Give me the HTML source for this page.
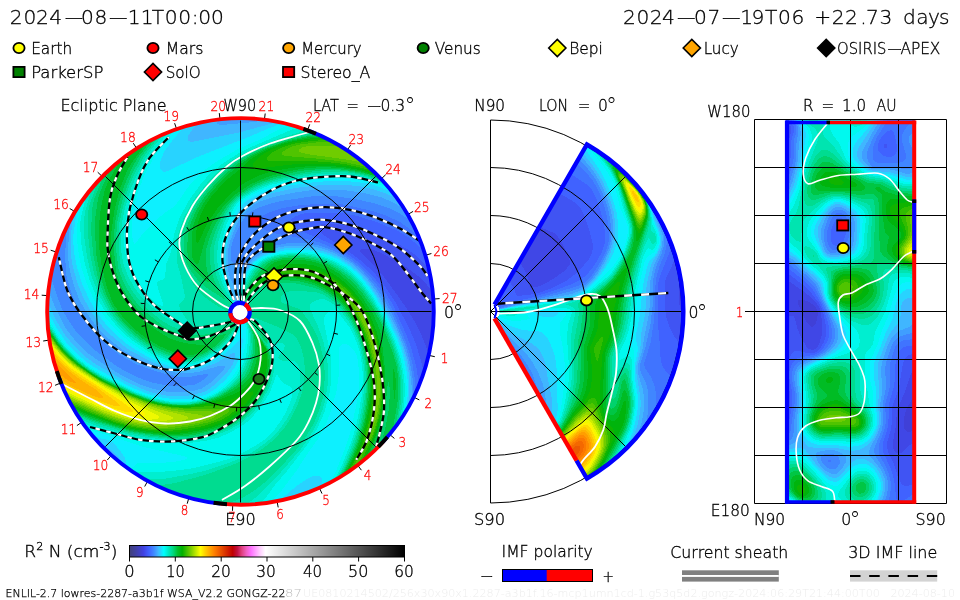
<!DOCTYPE html>
<html lang="en"><head><meta charset="utf-8"><title>ENLIL solar wind density</title>
<style>html,body{margin:0;padding:0;background:#fff}svg{display:block}text{font-family:'DejaVu Sans Light','DejaVu Sans','Liberation Sans',sans-serif;white-space:pre}</style>
</head><body>
<svg width="960" height="600" viewBox="0 0 960 600">
<rect width="960" height="600" fill="#fff"/>
<defs><clipPath id="cl"><circle cx="240.5" cy="311.5" r="192.5"/></clipPath></defs>
<g clip-path="url(#cl)"><g transform="scale(0.5)" shape-rendering="crispEdges">
<path fill="#404078" d="M88 230l788 0 0 788-788 0 0-788z"/>
<path fill="#4040d7" d="M88 230l788 0 0 788-788 0 0-788z"/>
<path fill="#4047e6" d="M88 230l788 0 0 788-788 0 0-788z"/>
<path fill="#4054f3" d="M88 230l788 0 0 359-6 1-16-20-18-18-21-16-23-14-28-15-20-8-10-2-8 1-4 1-2 3 6 8 24 24 18 20 28 38 22 32 13 22 10 20 10 24 9 26 16 4 0 50 0 248-788 0 0-788z"/>
<path fill="#4062ff" d="M88 230l788 0 0 308-14 2-30-29-18-13-36-20-50-21-24-6-52-4-8 1-3 2-3 4 2 8 7 8 61 41 16 12 24 22 19 23 24 36 28 54 12 28 11 35 7 31 27 10 0 256-788 0 0-788z"/>
<path fill="#4074ff" d="M88 230l788 0 0 267-24 7-36-30-24-14-39-16-39-12-22-5-26-2-53 1-13 3-10 4-6 4-3 5 4 8 13 10 60 26 37 22 23 17 24 23 23 28 20 32 28 62 10 28 10 38 6 42 37 17 0 223-788 0 0-788z"/>
<path fill="#4086ff" d="M88 230l788 0 0 229-34 14-2 0-40-29-28-13-28-9-34-8-24-5-20-2-22 0-48 4-30 5-20 6-19 8-8 6-4 8 1 6 3 4 15 8 22 6 60 11 24 6 32 14 32 20 15 13 17 17 15 17 12 16 12 20 11 20 18 42 12 32 9 32 4 26 3 38 44 22 0 204-788 0 0-788z"/>
<path fill="#409eff" d="M88 230l788 0 0 191-48 24-32-20-18-9-32-10-32-7-38-6-28-2-26 2-60 9-24 6-17 6-17 8-11 8-11 16-8 15-10 25-3 16 0 14 3 8 6 5 4 2 12 1 4-3 16-16 14-10 12-6 18-6 22-4 22-2 24 2 20 4 16 5 16 7 16 8 14 10 14 11 14 14 25 30 18 28 15 28 26 62 6 24 6 28 2 20 2 36 48 26 0 190-54 0-734 0 0-476 10 2 2 3 12 39 12 32 10 18 16 24 14 16 20 20 50 37 27 15 27 12 20 6 28 5 30 1 24-3 7-3 9-6 9-8 2-4-6 0-33 6-24-1-18-4-26-7-36-13-34-19-28-21-25-25-24-32-8-16-10-24-7-22-5-18-3-40 4-60-1-6-45-23 0-193z"/>
<path fill="#40b6ff" d="M88 230l357 0 0 4-11 12 0 2 8 2 56-5 23-3 15-5 2-7 338 0 0 153-62 37-34-18-19-8-33-8-34-5-40-2-36 2-28 4-34 7-22 6-16 6-10 5-16 13-9 10-11 20-12 31-4 17-1 18 0 18 3 13 4 12 9 15 1 3 2-1 9-24 8-16 11-15 10-9 16-9 14-6 18-5 26-3 22 0 20 2 20 5 20 8 18 10 16 10 18 16 16 18 16 22 23 38 17 34 16 40 8 28 5 30 2 18 0 40 53 30 0 178-8 0-780 0 0-444 6 1 2 4 16 40 16 32 14 20 20 23 16 14 20 14 44 28 36 18 28 10 30 6 20 1 30-3 18-5 16-11 20-18 7-8 3-6 0-2-2-1-6 0-46 13-24 3-22-2-28-8-46-19-30-18-20-15-15-13-15-16-13-16-14-22-12-22-10-28-7-26-3-20-1-24 4-52 0-12-52-30 0-174z"/>
<path fill="#28d3ff" d="M88 230l312 0 2 10 0 2-17 16-9 14-1 4 1 5 4 2 4 1 98-20 58-16 18-6 2-2 2-10 314 0 0 118-74 51-6-1-26-12-22-7-26-6-28-3-36 0-24 1-44 5-44 10-22 7-19 9-9 6-10 11-9 13-9 18-11 30-4 16-2 26 2 22 13 49 6 15 6 10 2 0-2-14-1-12 5-24 9-24 15-21 18-12 22-9 22-5 36-2 24 3 24 6 26 11 22 14 20 18 18 21 15 22 22 38 21 44 11 28 6 22 4 22 2 22-1 46 1 6 57 33 0 167-156 0-578 0 84-98 11-2 1-2-4-6-10-9-12-5-14-4-110 105 0-400 4 1 2 3 18 39 18 30 20 24 20 19 24 17 56 32 32 15 24 9 26 5 28 2 26-3 24-7 8-5 14-10 22-23 12-17 3-10 1-8 0-3-2-1-2 0-34 20-36 13-28 2-26-3-16-5-20-8-46-24-17-13-19-16-14-13-13-15-17-24-15-28-10-26-9-31-4-23-1-22 1-20 4-36 0-12-58-35 0-157zM480 618l0 2 0-2z"/>
<path fill="#0df0ff" d="M88 230l281 0 5 18-20 22-14 17-12 17-5 12-3 10 0 8 2 6 6 4 10-3 54-26 100-39 47-20 33-12 4-14 300 0 0 92-84 64-6-1-27-11-19-6-26-4-26-2-28 0-28 2-60 8-34 9-18 7-17 8-10 6-7 7-12 18-9 19-11 34-5 18-1 30 3 24 15 46 6 12 8 11-1-25 4-26 11-26 14-19 16-11 22-9 22-4 34-2 26 3 24 6 26 11 22 14 19 17 18 22 13 19 19 33 25 52 10 26 5 20 5 24 2 24-2 50 1 6 61 37 0 155-136 0-88 0-16-36 0-2 8-14 0-8-4-5-8-1-8 1-12 6-16 11-16 13-26 23 3 12-390 0 71-89 13-1 2-4-4-10-10-14-8-10-7-6-8-4-18-4-18-6-2 1-90 73 0-328 4 2 2 3 20 36 18 27 20 21 22 20 24 15 68 36 30 12 32 8 30 3 24-2 28-7 10-5 10-7 22-19 18-25 6-12 4-12 4-18 2-12-2-5-2 1-15 16-15 13-22 15-12 6-26 10-16 1-16-1-16-3-18-5-16-7-18-9-26-16-16-11-22-19-15-16-19-24-16-28-14-31-10-33-6-30-2-28 7-52 0-12-65-43 0-139z"/>
<path fill="#00f9ef" d="M88 230l257 0 8 24-1 2-26 32-21 32-17 32-14 38-8 32-3 28 1 22 4 17 2-1 18-24 22-22 18-15 22-15 32-46 14-14 16-14 23-16 39-23 48-21 41-22 23-8 6-18 284 0 0 73-92 75-47-16-33-6-22-1-28 1-26 3-28 5-32 4-26 6-17 6-18 8-17 10-8 6-10 15-9 19-6 16-8 26-3 18-2 16 0 18 2 14 6 18 13 34 6 12 9 11 0-23 3-20 9-25 9-15 11-13 12-8 20-8 20-4 32-2 26 1 24 6 22 8 24 14 16 12 20 21 17 23 25 44 17 36 10 24 7 22 6 28 3 30 0 20-4 34 1 8 66 42 0 142-195 0-24-46 0-2 15-28 20-50 7-22 13-56 4-20 2-24 0-24-2-24-2-10-4-9-6-7-8-6-6-2-6 0-4 4-2 6 0 48-5 36-10 36-10 28-17 32-23 32-19 30-30 40-13 14-17 16 1 8-349 0 61-82 17-1 6-3 5-6 3-1 38 1 30-2 22-4 7-4-2-2-7-2-86-20-64-22-26-7-24-9-78 58 0-282 4 1 2 2 24 39 16 21 23 23 27 20 16 10 54 28 22 10 35 12 17 4 22 2 30 0 12-2 19-6 10-4 11-6 24-20 9-10 9-14 11-24 6-28 1-16 0-14-4-18-6-14 0 20-3 14-8 16-11 14-18 15-30 18-20 8-16 1-18-1-18-4-18-6-16-7-14-8-34-23-15-13-17-17-21-25-18-30-14-32-11-34-6-34-3-32 1-14 7-38 1-14-1-2-73-51 0-117z"/>
<path fill="#00eed0" d="M88 230l241 0 11 30-36 46-18 31-12 25-10 28-10 32-4 24-2 24 1 24 3 21 5 19 7 15 14 23 14 17 22 19 10 4 3-2-1-4-10-29-2-11 2-4 10-3 4-5 3-28 9-22 7-38 10-30 18-34 26-36 18-20 27-21 32-20 20-10 84-36 20-5 2-2 7-22 263 0 0 62-96 80-6-1-30-11-28-6-34-4-34 1-30 4-51 9-23 5-33 13-27 16-8 6-6 9-8 15-9 20-11 40-3 30 2 24 8 24 16 36 8 12 7 8 1-2 0-20 3-17 6-19 10-20 10-12 8-8 16-9 18-5 20-3 32-1 22 2 22 6 22 9 23 13 15 12 15 16 23 31 23 41 20 44 11 32 6 28 4 34-1 20-4 46 71 49 0 129-184 0-27-50 2-6 9-16 8-16 20-50 10-36 10-56 2-38-4-34-4-18-4-12-8-18-8-15-16-21-12-12-4-1-4 1-8 6-4 6-2 6 0 8 13 62 2 34-1 22-3 22-10 38-14 32-18 30-43 56-24 28-20 28-17 14 1 6-305 0 51-73 58-1 44-4 26-4 48-12 21-6 24-10 29-16 18-12 9-8 13-14 10-14 11-18 8-18 5-16 1-10-1-4-4-5-12-6-4-3-10-15-2 2-11 31-10 18-14 20-18 20-17 13-24 13-20 9-24 6-28 4-26 1-76-7-30-6-60-16-36-14-70 47 0-254 4 1 2 2 22 35 16 21 24 23 26 20 24 14 66 33 36 12 34 7 32 1 26-5 27-10 13-8 14-10 18-19 14-25 5-12 3-14 2-28 0-12-3-12-5-14-6-11-5 23-6 16-8 14-12 14-17 13-30 17-16 6-16 0-18-2-18-5-16-6-16-7-42-29-16-13-13-14-22-28-18-30-14-34-10-36-6-34-3-40 2-16 10-40 0-10-84-65 0-89z"/>
<path fill="#00e4b0" d="M88 230l229 0 14 32-1 2-28 36-10 15-18 34-14 33-10 34-6 28-2 30 1 32 4 22 9 24 12 22 16 21 17 17 27 22 20 10 10 3 8 1 6-1 3-3-2-6-12-18-3-8 2-6 8-7 2-5-6-32-11-42 0-26 4-28 11-32 19-34 30-38 27-26 18-14 18-11 32-16 52-20 38-11 18-4 2-2 11-28 243 0 0 53-99 85-7-1-30-11-30-6-28-3-36 0-36 5-64 13-29 11-29 16-12 8-7 8-9 14-10 20-7 20-7 24-2 30 3 28 8 24 19 36 6 8 10 10 1-2 1-21 4-16 8-21 10-18 10-12 9-8 15-8 16-5 20-2 28-1 22 3 22 5 22 9 20 12 17 13 15 15 24 32 23 41 20 44 10 30 6 28 4 36-1 22-6 44 0 6 76 53 0 117-177 0-29-52 0-4 14-24 14-32 14-39 6-23 6-30 5-42-1-40-8-40-6-16-8-18-10-17-10-13-16-17-10-7-10-5-6-1-6 1-13 5-5 4-1 4 1 6 16 35 10 27 5 22 4 24 1 24-1 22-4 26-6 22-8 20-11 22-12 19-12 17-47 54-47 46-20 14-1 2 0 4-245 0 38-61 52 0 50-9 26-6 44-14 25-10 28-14 26-18 14-12 13-14 16-22 10-18 10-24 5-18 2-16-1-20-4-13-6-6-6-2-20 0-6-3-2-2 2-4 10-14 2-8-4-3-8-1-6 0-6 2-3 4 0 4 6 18-2 32-4 16-5 14-14 26-17 22-23 21-28 16-32 12-30 6-28 2-26-1-50-5-32-6-64-17-18-7-22-10-66 43 0-237 4 0 2 2 22 35 16 20 24 22 26 20 24 14 65 32 33 12 36 7 32 1 28-4 28-10 28-18 19-18 13-21 9-25 3-26-1-18-3-14-6-14-8-13-6 21-7 16-11 17-14 15-16 11-30 16-14 4-16-1-18-3-18-5-30-14-14-9-26-19-25-24-20-26-20-36-14-36-9-38-5-36-1-40 3-18 11-38 1-8 0-4-95-80 0-60z"/>
<path fill="#00dc90" d="M88 230l219 0 16 36-4 6-25 32-9 14-17 32-12 28-10 36-7 30-2 30 1 30 3 24 4 16 9 20 12 20 14 18 16 17 26 21 18 11 14 6 10 3 24 2 36-6 12-4 11-6 13-10 0-2 2-2 4 0 2-2 2 0 4-4 2 0 5-4 1-16 4-16 10-25 12-21 10-12 7-6 11-6 12-5 20-4 22-1 22 1 20 4 18 5 17 8 20 12 17 13 23 25 25 37 20 39 14 34 7 20 7 30 3 38-1 28-7 44 1 6 80 59 0 105-171 0-32-56 18-32 17-41 12-39 6-29 5-35 1-34-3-32-7-30-8-22-14-27-18-24-16-15-18-12-16-6-18-1-14-2-19 1-9 3-8 5-3 6 0 6 5 4 32 12 6 5 16 23 12 21 8 21 6 26 4 34-2 30-2 16-6 22-12 30-19 32-21 27-46 49-21 18-15 11-22 13-34 14-2 2-1 6-85 0-82 0 23-46 5-2 22-1 20-3 56-15 26-9 40-15 28-14 26-16 22-18 19-21 15-22 12-24 9-24 5-24 2-24-2-22-6-23-8-18-6-7-37-18-43-17 0 1 2 4 13 16 11 20 3 8-3 6 11 22-1 28-5 22-7 18-8 16-13 18-13 14-14 12-12 8-16 9-20 8-32 8-32 5-28 0-48-5-40-8-64-18-42-17-62 39 0-225 4 0 2 3 22 33 20 24 22 20 28 20 24 14 62 30 34 12 34 7 30 1 14-1 16-4 30-10 28-17 20-18 12-18 10-26 3-14 0-14-1-18-4-16-6-14-10-13-2 3-5 18-7 14-12 17-10 11-14 11-20 12-16 7-14 3-16 0-18-4-22-8-16-7-14-8-14-10-24-19-18-17-12-15-9-13-18-36-13-38-8-40-4-38 0-42 3-16 13-36 3-16-107-100 0-28zM506 634l-1 0 1 0zM645 232l1-2 230 0 0 45-102 90-6-1-35-12-27-6-22-2-32 0-40 4-52 10-26 8-22 9-32 19-10 8-7 8-11 18-10 22-7 18-6 22-1 16 1 22 2 16 4 14 8 18 9 16 12 16 15 14-1 2-22 0-26-15-18-13-12-10-7-8-8-12-23-45-2-7 0-20 2-20 5-18 6-18 15-28 18-26 29-32 27-24 34-21 34-16 40-14 62-14 13-31z"/>
<path fill="#00d26c" d="M95 230l201 0 19 40-7 10-26 34-19 36-16 42-12 50-3 34 1 30 4 32 8 22 8 16 10 16 12 16 13 13 38 31 14 8 16 7 16 3 18 1 14-1 22-4 14-5 10-6 14-11 9-10 5-7 0 5-2 8-6 13-16 22-13 13-13 10-20 11-16 7-12 2-12-1-18-3-22-8-18-8-28-18-22-18-14-14-21-26-16-32-9-22-6-20-8-42-4-46 3-46 4-18 17-42 1-8 0-2-112-114zM654 232l1-2 221 0 0 37-104 94-2 1-4-1-26-9-24-6-24-4-24-2-26 1-28 3-62 13-24 8-18 8-18 10-20 14-8 7-9 12-11 18-9 18-8 22-6 20-1 16 1 20 3 18 5 14 8 16 14 20-1 1-36-23-14-11-10-12-12-16-9-21-2-8 0-12 2-26 8-26 11-24 19-30 24-28 21-20 25-20 19-12 18-9 40-16 28-8 57-11 15-34zM564 514l22-2 26 2 22 4 22 8 20 11 22 15 15 14 15 18 20 30 20 37 18 44 9 33 4 26 1 36-2 22-8 48 86 67 0 91-166 0-6-12-27-46 17-32 10-22 9-22 7-24 6-24 5-26 2-24 2-24-2-32-7-34-8-26-13-26-11-17-12-16-12-11-16-12-14-8-14-5-27-7-15-2-16-1-16 1-16 4-15 6-15 10-8 8-10 14-6 13 1-13 5-18 12-27 12-18 12-14 13-9 10-4 17-4zM481 624l1-1 1 1-1 0-1 0zM479 626l1-1 0 1 0 1-1-1zM484 626l2-1 4 3 0 3 2-2 4 3 12 10 10 12 12 19 4 7 0 4-2 2-2-2-24-38-11-12-3-3-1 1 46 66 6 16-1 20-2 14-4 16-8 18-8 14-10 14-13 14-15 14-12 8-22 11-26 9-34 7-32 2-22 0-34-4-38-7-76-22-38-16-44 26-16 10 0-215 4 0 2 3 25 36 19 22 28 24 34 22 60 30 36 14 22 6 18 3 18 2 20 0 14-2 16-3 32-12 17-10 17-12 14-12 6-8 8-16 5-16 3-16 1-18-2-16-5-15-11-21-5-6z"/>
<path fill="#00c644" d="M131 230l154 0 22 44-7 10-25 32-10 18-16 36-11 36-8 40-3 38 3 42 3 20 4 12 7 16 9 16 23 29 22 21 36 25 26 11 24 4 26-2 32-8 8-2 2 0-8 12-16 14-16 10-16 7-10 3-12 1-14-3-18-5-22-9-28-15-35-29-13-14-14-18-7-12-9-18-14-42-7-38-3-44 1-36 5-35 4-13 16-36 6-16-91-102zM662 230l214 0 0 30-107 98-5 0-26-9-20-5-36-5-42-1-42 4-52 13-32 12-18 10-18 12-14 11-12 14-13 20-12 22-8 20-6 20-2 12 0 16 3 16 5 22 1 2-2 1-6-3-12-10-18-21-4-9-4-22 2-30 6-26 11-24 16-26 24-28 19-19 31-25 26-16 27-12 36-12 34-8 38-6 18-38zM568 516l30-1 30 5 28 9 22 13 26 21 20 22 24 35 16 30 22 56 8 30 2 20 1 22-2 26-11 64 92 75 0 64-115-113 11-44 6-34 2-34-2-16-2-3-5 47-4 26-8 28-13 34-5 14 1 4 90 102-116 0-35-60 25-50 9-22 7-24 7-24 4-26 3-24 1-26-1-22-2-20-5-22-6-22-8-18-9-18-12-19-12-15-12-11-14-10-14-8-14-7-31-8-33-2-14 1-12 3-15 6-10 6-10 8-7 8-7 10-5 12-1-4 2-6 8-18 15-27 12-17 12-12 12-8 24-6zM482 618l0-1 0 1 0 2 0-2zM494 638l0-1 0 1 0 1 0-1zM496 640l1 2-1 0 0-2zM497 644l1-1 20 29 18 28 4 14 0 12-1 16-3 14-7 18-9 16-12 17-14 15-15 14-12 8-17 9-18 6-40 10-30 4-28-1-38-4-30-5-30-8-56-18-34-15-58 33 0-79 0-126 4 0 22 32 12 15 12 13 19 16 19 14 22 14 64 32 44 16 20 5 18 2 22 1 16-1 16-2 20-6 24-10 28-17 20-16 9-14 9-26 3-26-3-22-11-26z"/>
<path fill="#00bc24" d="M171 230l100 0 26 48-1 3-6 9-24 32-12 20-15 38-10 40-6 42-1 38 5 46 5 18 5 14 15 25 20 24 20 19 28 19 20 12 20 7 20 4 24 2 12 1 2 1-3 4-17 10-16 5-12-1-18-4-34-14-28-17-26-21-20-22-18-25-12-31-11-46-5-38 0-44 4-34 8-36 8-18 17-30 3-8 1-6-68-86zM667 232l1-2 208 0 0 22-110 104-6-1-38-12-34-6-38-3-36 2-40 7-40 11-34 15-28 19-14 12-11 12-13 18-11 18-12 28-13 48-2 5-4-1-4-6-3-6-2-12 0-28 4-26 8-22 11-20 14-20 18-21 19-19 27-22 20-14 23-12 25-10 26-8 36-7 34-4 19-39zM567 520l25-1 29 3 15 4 16 6 24 14 26 22 20 23 25 39 13 30 4 24 6 54 1 30-2 30-3 28-7 28-6 18-17 42-1 6 84 98-97 0-12-19-26-43 21-40 11-26 12-40 7-32 4-32 0-38-3-32-8-32-7-20-9-19-12-20-12-16-12-13-14-11-14-9-18-9-16-5-22-5-22-1-18 1-18 5-13 6-15 11-12 12-1-1 3-6 10-16 35-38 9-6 17-4zM88 654l0-2 4 0 2 2 24 35 16 18 24 21 26 19 24 14 54 26 34 13 26 7 22 3 22 1 18-1 20-3 24-7 16-7 25-13 17-11 10-9 6-8 6-14 4-14 3-14 0-16-2-16-4-14 1-2 8 11 16 27 3 18 0 16-2 12-7 22-10 19-12 17-19 20-17 14-13 8-19 8-24 7-36 7-26 2-26 0-40-5-28-6-28-8-52-18-34-15-2 0-54 31 0-195zM508 660l1 2-1 0 0-2zM785 732l5 15 2 19-2 30-2 6-3-64 0-6z"/>
<path fill="#00b40c" d="M674 232l1-2 201 0 0 14-113 108-5 0-34-11-32-6-30-3-34-1-38 4-46 7-26 9-24 12-14 9-18 15-25 27-21 30-20 42-2 0-2-6 0-14 4-21 6-18 8-15 12-18 14-16 18-19 29-23 19-18 16-10 20-10 27-10 23-6 32-5 32-4 2-1 20-40zM571 528l27-1 30 4 28 10 22 14 24 21 21 26 18 30 12 30 8 32 6 38 2 30-1 32-5 34-6 26-6 18-20 46 0 6 77 94-81 0-8-14-31-50 23-46 8-18 12-40 7-34 4-34-1-38-3-30-8-32-7-20-9-18-8-15-12-17-13-16-11-10-14-10-15-8-21-8-18-4-16-2-22-1-14 2-16 4-12 6-16 11 0-3 7-9 19-17 26-16 13-3zM88 656l0-1 4 0 2 2 23 33 17 19 20 17 26 19 28 17 50 25 30 12 28 8 36 5 20 0 18-1 20-4 28-8 28-10 16-8 10-8 9-9 6-8 5-10 5-14 2-14 0-36 1-2 12 18 1 10 1 26-5 22-8 18-11 18-16 19-20 19-13 10-11 6-22 8-20 5-38 7-22 2-28-1-36-5-24-5-31-9-53-19-34-15-2 0-52 29 0-187z"/>
<path fill="#10b400" d="M682 230l194 0 0 4-116 114-6 0-28-9-22-5-34-5-40-2-46 2-70 8-6-1-2-2-1-4 3-6 10-10 15-10 23-10 24-8 18-4 30-4 30-2 24-46zM574 534l28 0 26 4 26 9 22 13 24 21 22 26 17 29 12 30 8 32 6 38 2 32-2 30-4 32-7 27-6 17-22 52 73 92-65 0-4-6-39-60 3-6 22-42 7-16 12-42 7-34 3-34-1-38-5-30-8-32-14-34-20-32-11-14-10-10-24-18-16-8-16-5-38-6-28 0-31 9 9-8 14-9 16-7 12-2zM88 658l4-1 2 2 22 31 16 18 18 16 22 17 32 20 48 24 24 10 28 10 24 5 20 3 22 1 18-1 64-11 22-7 32-13 1 4-6 10-14 16-15 14-20 14-26 11-20 5-34 6-28 3-36-2-26-3-24-5-29-9-53-20-36-16-2 0-50 27 0-179z"/>
<path fill="#30bc00" d="M690 232l1-2 175 0-112 114-34-9-30-7-38-4-48-3-60 2-8-2-3-3 5-8 8-6 16-8 22-8 38-6 42-3 26-47zM572 540l26-1 26 3 24 7 24 13 20 15 20 22 16 23 14 28 11 30 7 36 4 38 0 39-4 33-8 30-6 18-15 30-10 26 68 88-19 0-30 0-44-68 1-6 24-44 6-16 13-46 6-36 1-38-2-38-7-32-11-34-14-28-14-22-15-18-18-17-16-11-20-7-38-8-30-4-2-1 4-2 8-2zM88 660l4-1 2 2 21 29 15 18 16 14 18 14 26 18 18 10 46 23 24 10 40 13 20 3 20 2 24 0 94-7 2 2 0 2-7 8-15 12-16 9-32 11-50 8-26 2-30-2-36-6-34-9-58-22-34-16-4-1-48 26 0-172z"/>
<path fill="#50c400" d="M703 232l1-2 142 0-98 106-2 1-6-1-24-6-22-5-26-4-36-4-60-5-8-2-1-2 2-4 9-6 13-6 13-3 32-4 41-1 30-52zM664 564l14 7 12 10 14 13 14 17 12 19 8 16 10 26 6 22 6 35 2 29 0 32-4 34-4 20-8 23-8 17-9 14-14 36 0 2 61 82-26 0-49-72 26-50 16-58 4-24 2-24 1-24-2-30-3-22-5-22-7-24-10-22-13-24-12-18-13-16-21-22 0-2zM90 662l4 1 2 2 18 26 12 14 12 12 18 15 44 29 64 32 40 14 38 8 36 3 62-1 17 1 2 2-1 2-6 6-17 10-15 6-26 6-50 8-24 1-28-3-34-6-32-10-56-22-32-15-4-1-46 24 0-164 2 0z"/>
<path fill="#70cc00" d="M725 232l1-2 95 0-85 98-36-8-87-12-14-4-2-2 0-2 7-5 13-3 27-1 43 1 38-60zM706 606l2 0 10 11 6 9 12 24 10 26 9 38 3 24 1 18 0 40-5 34-4 14-4 10-2 3 0-6 7-39 3-30-1-32-3-28-7-32-8-26-29-58zM88 666l0-1 6 0 31 41 13 12 18 15 44 29 56 29 36 14 38 10 38 6 56 2 8 1 4 2 1 2-8 6-8 4-17 6-20 4-48 7-26 0-28-3-28-6-32-10-90-38-44 22 0-154z"/>
<path fill="#90d600" d="M88 668l6 0 28 36 22 21 26 19 44 27 48 24 42 16 38 10 54 8 12 3 0 2-7 4-21 6-35 6-23 2-28-2-26-4-24-6-30-10-84-36-42 20 0-146z"/>
<path fill="#b0e200" d="M88 672l0-1 6-1 26 34 24 23 22 16 40 25 52 27 34 15 28 9 46 11 10 4 1 2-2 2-19 5-22 4-24 1-26-2-26-5-22-6-28-10-80-36-40 18 0-135z"/>
<path fill="#d0ee00" d="M88 674l6-1 26 34 20 19 22 16 32 21 70 38 36 16 45 17 2 2-2 2-15 4-20 2-20-1-20-3-26-6-44-16-46-20-28-15-38 17 0-126z"/>
<path fill="#eff900" d="M88 678l6-1 2 2 30 37 20 17 18 13 40 25 52 30 61 31 2 2-1 2-6 2-8 1-16 0-18-3-38-9-40-16-42-19-26-14-2 0-34 14 0-114z"/>
<path fill="#fff300" d="M88 684l0-1 8 0 30 36 30 24 52 34 81 49 2 4-1 1-12 2-18-3-16-3-40-14-52-24-32-18-32 14 0-101z"/>
<path fill="#ffdc00" d="M96 688l4 4 24 28 20 18 18 12 80 52 19 14 4 4 1 2-2 2-6 0-10-1-24-7-37-14-41-20-28-17-30 12 0-88 8-1z"/>
<path fill="#ffc600" d="M92 696l6-1 25 29 19 17 18 13 30 18 46 34 3 4 0 2-5 1-8-2-34-11-35-16-19-10-22-15-28 9 0-71 4-1z"/>
<path fill="#ffb200" d="M97 704l3 0 22 24 14 13 24 18 30 19 12 10 5 6-1 2-6 0-8-2-15-6-33-15-10-6-20-15-2-1-24 8 0-53 9-2z"/>
<path fill="#ff9e00" d="M98 716l4-1 24 25 22 20 4 6-4 0-8-3-10-6-20-16-22 6 0-29 10-2z"/>
</g></g>
<defs><clipPath id="cm"><path d="M495.3 303.2L587.0 144.4A193 193 0 0 1 587.0 478.6L495.3 319.8A9.6 9.6 0 0 0 495.3 303.2Z"/></clipPath></defs>
<g clip-path="url(#cm)"><g transform="scale(0.5)" shape-rendering="crispEdges">
<path fill="#404078" d="M976 230l404 0 0 788-404 0 0-788z"/>
<path fill="#4040d7" d="M976 230l404 0 0 788-404 0 0-788z"/>
<path fill="#4047e6" d="M976 230l404 0 0 788-404 0 0-788z"/>
<path fill="#4054f3" d="M976 230l404 0 0 315-11 3-7 5-2 3-2 6-1 8 2 40 3 12 6 8 6 3 6 1 0 384-210 0-194 0 0-511 16 0 14 2 14 4 15 7 7 8 7 12 7 16 4 16 1 2 3 1 8-1 10-3 14-7 16-10 14-10 8-8 5-6 1-6-2-8-14-30-8-12-8-8-54-23-19-7-29-6-30-2 0-198z"/>
<path fill="#4062ff" d="M976 230l404 0 0 268-18 5-4 3-4 4-21 44-3 8-1 12 2 50 2 12 7 20 8 16 10 13 4 3 6 3 12 3 0 324-198 0-206 0 0-467 10 0 10 2 10 2 8 4 4 4 6 8 5 9 3 10 2 2 28-3 15-3 22-8 19-9 14-7 16-12 16-15 14-17 6-12 2-10-1-10-5-20-10-31-9-19-5-6-6-5-22-13-28-14-18-8-20-7-20-5-22-5-22-2-22 0 0-121z"/>
<path fill="#4074ff" d="M976 230l404 0 0 219-32 14-2 3-2 6-3 22-2 10-18 46-4 14-1 82 1 14 2 22 2 32 2 12 3 8 8 12 12 11 8 4 26 10 0 247-170 0-234 0 0-396 6 0 4-4 2 0 2-2 2 0 2-2 2 0 6-3 16-6 42-9 46-14 33-12 21-10 8-6 10-10 11-14 7-12 8-14 4-12 2-6 1-12-2-16-3-18-6-22-6-17-10-21-7-8-9-7-20-13-26-14-23-10-23-8-24-7-26-5-24-2-26-1 0-75z"/>
<path fill="#4086ff" d="M976 230l404 0 0 153-56 34 0 1 2 16 8 32 1 10-1 10-4 20-11 26-7 26-1 12-1 44-3 34-6 38-13 42 2 8 13 20 7 18 2 16-1 34 1 7 2 5 4 4 62 40 0 138-138 0-266 0 0-395 6-1 32-11 60-15 43-12 38-12 13-6 7-6 9-10 12-18 7-12 7-14 6-17 2-9 0-10-1-18-3-18-6-24-8-22-8-16-6-10-12-15-12-12-16-15-14-8-24-11-27-9-25-7-31-5-25-2-24-1 0-47z"/>
<path fill="#409eff" d="M976 230l242 0-30 50 0 2 2 0 28 22 23 22 28 30 18 22 11 16 7 14 18 42 5 18 1 12-2 14-4 14-11 26-6 26-1 12 0 42-4 34-10 46-10 32-1 6 0 6 2 7 9 19 3 8 2 10 1 12-1 30-2 14-6 26-1 10 1 4 92 76 0 64-266 0-138 0 0-194 16 0 18-2 20-4 16-5 14-5 10-5 3-5 2-8-1-12-2-10-8-22-8-14-9-14-17-22-12-12-8-6-2 0-16 5-16 1 0-61 6 0 4-2 30-8 128-31 16-6 12-7 11-11 13-18 12-21 9-21 4-14 2-12-1-18-2-18-4-18-5-16-7-18-8-17-8-13-12-16-14-15-10-10-12-8-20-9-24-9-26-8-24-5-23-4-23-2-24 0 0-38z"/>
<path fill="#40b6ff" d="M976 230l64 0 40 8 32 10 26 10 26 12 24 15 30 23 24 22 29 32 18 22 7 12 5 10 9 25 11 27 4 12 0 12-2 14-5 14-10 20-7 30-1 12 0 36-3 24-8 40-4 26-9 32 0 12 1 8 8 26 2 12 1 16 0 14-2 14-3 14-7 20-10 28-2 6 1 4 114 114-293 0-110 0 0-162 24-1 24-3 24-6 24-9 11-5 5-5 2-7 2-14-2-20-5-20-8-20-12-22-15-20-47-46-17-22 0-2-6 0-4-1 0-9 4 0 8-3 42-10 113-23 15-6 12-7 14-13 12-16 12-20 10-22 5-14 3-14 0-18-1-20-3-16-6-20-8-21-8-17-10-17-11-15-13-15-12-11-12-8-20-10-24-9-26-8-24-5-24-4-24-2-24 0 0-30z"/>
<path fill="#28d3ff" d="M976 230l43 0 7 1 32 5 30 7 30 10 28 11 26 14 23 14 25 20 20 18 32 35 16 21 9 14 4 10 7 24 12 30 2 12 0 12-3 10-5 12-9 14-3 6-7 32-2 12-1 34-2 20-8 42-1 22-1 10-7 28-1 10 2 14 5 30 2 16 0 14-2 16-5 24-9 24-8 18-14 24-2 6 79 92-290 0-54 0 0-142 30-1 30-5 30-8 27-12 6-6 4-10 1-20-1-20-7-34-5-32-5-14-6-12-7-8-8-6-35-18-16-11-14-13-19-22 7-3 48-10 104-18 14-5 14-8 14-12 10-12 16-22 9-18 8-20 4-14 1-18 0-20-2-18-5-18-9-24-9-22-8-14-13-19-16-20-12-12-12-8-22-10-22-8-26-8-26-5-22-4-24-2-26 0 0-22z"/>
<path fill="#0df0ff" d="M976 232l0-1 22 1 34 3 32 5 28 7 28 10 28 12 32 16 20 13 21 16 23 22 27 30 16 20 8 12 4 10 9 34 10 24 2 12-1 12-4 12-5 8-11 12-5 12-8 36-6 58-8 42 0 10 3 12 1 8-2 10-4 18-1 12 2 24 4 24 1 16-1 16-3 18-7 28-11 26-10 18-24 32 0 2 55 74-283 0-16 0 0-135 34-1 34-7 20-5 20-8 13-6 7-6 5-6 3-6 3-16 0-16-2-30 1-30-2-22-4-18-10-25-8-11-6-5-6-2-32-3-20-6-10-4-10-7-24-19 6-3 44-8 108-17 14-4 12-7 14-11 13-14 14-18 11-18 9-18 7-20 2-12 0-26-2-20-5-18-8-24-10-24-9-18-13-20-19-26-11-12-11-7-18-8-20-8-22-7-28-7-29-5-27-3-28 0 0-9zM1084 622l-11 2-3 2 4 3 6 3 8 2 8 1 8-1 6-2 6-4 0-2-1-2-11-2-20 0z"/>
<path fill="#00f9ef" d="M1172 286l8 2 8 4 18 12 12 9 26 25 35 38 11 16 7 12 5 16 4 24 8 18 3 12 1 6-1 8-4 10-5 7-10 6-4 4-4 7-2 6-11 48-7 60-10 46 0 8 8 11 1 7-2 20 0 10 1 24 4 32 1 14-2 14-4 22-4 14-6 18-6 14-8 14-15 21-29 33 39 60-262 0 0-80 0-51 24-1 20-2 21-4 15-4 18-6 23-10 11-8 6-8 4-10 4-16 7-52 1-18-1-24-3-28-5-24-2-22 1-4 12-16 1-4-1-2-4-3-6-1-10-2-24 1-27 3-7 2-2 2 7 10 0 2-9 2-18 2-10-1-12-3-10-4-17-10 5-2 46-8 106-15 10-2 10-4 10-7 12-10 43-42 15-22 6-12 5-14 5-22-1-12-4-12-11-24-8-35-4-12-6-13-15-24-32-40-3-6z"/>
<path fill="#00eed0" d="M1186 296l2-1 16 9 12 9 14 12 14 14 22 23 19 24 8 12 4 10 5 18 3 24 7 14 3 10-1 12-4 9-4 4-4 0-6-3-2 2-4 7-5 13-15 64-7 52-6 28-6 18-11 22-3 10 0 6 3 2 10-5 6-3 4 1 3 5 2 44 4 30 1 16-2 20-6 26-15 36-6 12-8 12-9 12-13 14-33 30 0 2 25 46-227 0 0-56 0-72 24-1 25-3 21-4 20-6 20-8 16-8 10-8 7-10 4-10 5-18 9-50 1-30-4-60 2-24 8-24-2-5-4-3-9-2-13-1-32 2-39 5-7 2-5 6-5 2-16-1-27-7 3-2 39-6 111-13 12-3 12-5 14-9 36-30 12-12 17-26 7-14 5-14 5-20 1-14-5-18-9-26-9-34-8-20-10-19-8-11-18-22-6-8 0-2z"/>
<path fill="#00e4b0" d="M1197 306l1-2 2 0 6 4 14 10 14 12 34 36 18 22 9 16 4 14 2 16 0 26 7 6 2 2 2 7-1 9-3 4-2 0-3-2-5-10-2 1-7 15-9 28-5 26-9 32-9 60-5 24-5 14-15 28-3 10 0 10 0 10 3 7 2 1 2-2 10-10 6-4 4 0 3 4 2 10 2 26 4 34 0 14-3 18-3 16-5 14-20 42-7 12-8 10-24 24-27 21-22 12-40 16-20 7-27 6-38 6-47 0 0-126 22-1 20-2 22-4 21-5 19-7 20-9 10-6 9-10 5-10 8-24 6-24 4-20 2-18 0-16-3-56 4-28 6-26-1-6-4-5-8-4-9-1 4-2 17-5 18-8 45-35 10-10 10-14 11-18 8-18 6-18 3-14 0-12-3-14-10-30-8-30-8-20-12-24-23-32zM1056 614l14-1 6 1-66 12-22-2 1-2 67-8z"/>
<path fill="#00dc90" d="M1205 312l1-1 2 1 6 3 20 17 16 15 26 29 9 12 8 14 4 12 2 12 0 16-3 18-18 56-18 68-9 58-4 18-4 14-16 30-3 12 0 32 2 11 2 6 2 0 9-17 9-11 4-1 2 1 3 5 8 58 0 14-3 20-4 14-4 12-22 46-14 20-20 21-26 21-20 11-22 10-20 7-40 12-24 5-28 3-42 2 0-124 28-1 28-4 28-6 26-10 18-8 11-9 8-10 7-16 11-32 5-20 2-16 1-24-1-54 8-44 2-14 0-6-3-12 4-4 16-10 35-27 10-10 8-9 15-24 8-16 7-18 5-22 0-14-3-12-21-68-5-12-12-24-14-20-3-6zM1010 620l15 0-17 3-12 0-5-1 15-1 4-1z"/>
<path fill="#00d26c" d="M1214 320l2 0 4 2 18 14 22 23 15 17 10 12 7 12 3 10 3 12 0 14-3 16-22 70-17 62-10 62-4 16-5 14-13 26-3 8-1 6 0 38 1 26 3 14 2 3 2 0 4-5 3-10 6-26 3-6 4-4 4 1 3 7 7 44 1 14-3 20-3 14-5 14-22 44-12 18-15 18-23 20-20 13-36 16-34 12-26 7-32 5-26 3-30 0 0-120 32-1 32-5 32-9 30-13 12-8 9-10 6-10 13-30 7-22 5-28 1-20 0-54 6-24 2-16 2-16 0-18 0-4 3-4 5-4 41-33 8-8 9-11 11-18 11-20 7-20 4-20 1-12-2-12-19-60-8-22-14-28-8-14 0-2z"/>
<path fill="#00c644" d="M1221 328l1-1 2 0 12 9 20 20 19 20 9 12 7 12 4 10 2 12-1 14-4 18-23 68-16 58-5 20-7 48-4 16-4 12-13 26-3 12-2 28 0 36 1 22 2 10 2 5 2 2 2 0 4-2 3-3 3-7 4-11 6-30 2-4 2-2 2 1 7 23 3 16 0 14-3 24-3 12-4 10-26 50-10 16-14 16-24 21-18 12-30 13-34 12-32 9-24 4-32 3-30 1 0-116 34-2 32-5 32-10 30-12 11-8 9-10 27-50 5-18 4-22 1-20 0-52 10-38 2-18 0-24 1-4 7-8 37-32 15-18 13-20 11-20 5-14 4-20 1-16-5-20-20-62-21-48z"/>
<path fill="#00bc24" d="M1226 332l2 0 4 2 10 9 22 22 15 17 7 10 5 10 3 10 2 10-1 14-5 18-8 22-15 40-19 64-8 38-4 30-4 16-4 12-11 24-4 12-2 74 0 22 2 12 5 8 4 2 5 0 5-4 5-12 9-31 2-3 2 0 4 7 3 15 0 14-3 19-6 21-31 58-10 16-13 14-22 18-18 11-32 14-36 12-26 7-28 4-28 3-28 1 0-113 34-2 34-5 32-10 30-13 10-7 10-10 17-30 15-24 6-18 3-18 1-22 0-50 11-38 1-16 1-26 1-6 6-8 34-32 15-18 13-20 10-20 5-14 3-14 1-20-4-18-21-64-15-36-3-6 0-4z"/>
<path fill="#00b40c" d="M1229 338l1-2 2 0 6 4 26 26 19 22 8 16 3 12 1 14-5 18-8 21-6 12-2 2-2-1-1-22-4-18-21-62-13-30-4-12zM1251 536l1-1 1 1 1 4-1 6-12 42-6 30-7 43-4 12-11 25-3 10-5 82 1 22 3 14 3 6 4 5 8 5 6-1 6-5 4-10 8-24 2-1 2 3 1 8-1 10-3 18-4 12-36 72-13 16-17 16-21 14-28 13-34 12-36 10-42 6-42 2 0-110 22-1 22-2 22-4 22-6 22-8 20-9 11-7 10-10 19-31 16-20 10-25 2-14 2-16-2-56 13-38 2-16 1-28 2-8 9-12 27-28 17-22 6-6z"/>
<path fill="#10b400" d="M1232 342l2-2 4 2 20 18 20 23 11 17 4 14 1 12-3 12-6 18-5 9-2 2-2-1-9-30-19-53-13-31-3-10zM1236 564l2-1 2 1 0 4-13 54-5 37-4 15-10 24-3 10-5 64 0 28 5 26 5 13 16 19 3 8-3 14-15 34-11 18-14 16-18 14-20 12-34 14-34 11-36 7-36 5-32 0 0-106 24-1 22-2 22-4 22-6 22-8 20-9 12-9 9-10 19-28 18-20 13-24 3-12 2-14-1-30-3-32 2-6 9-20 4-12 5-50 3-8 10-14 23-22z"/>
<path fill="#30bc00" d="M1235 344l1-1 2 1 6 4 20 19 14 17 10 16 4 12 1 10-1 8-6 18-4 7-2 2-2 0-4-5-26-72-11-26-2-6 0-4zM1203 674l1-1 2 0 0 1-1 10-9 36-2 2-1-2-4-14-1-8 2-6 4-7 9-11zM1183 796l3-1 2 0 4 4 12 37 15 26 2 8-1 12-5 16-11 24-9 14-13 14-18 14-15 8-23 10-28 10-28 8-31 6-27 3-36 1 0-103 34-2 34-5 33-10 31-13 10-7 9-8 23-32 16-15 12-16 5-3z"/>
<path fill="#50c400" d="M1238 348l0-1 2 0 4 2 20 19 14 16 10 16 3 10 1 10-1 10-5 13-3 5-3 3-2-1-3-4-12-28-12-34-12-28-1-6 0-2zM1178 808l6-2 3 2 3 3 10 27 14 26 2 10-1 14-4 14-11 22-9 14-13 13-16 13-16 8-26 11-25 9-29 8-30 5-24 3-36 1 0-100 34-2 32-5 34-9 30-13 10-6 10-8 7-8 19-25 26-25z"/>
<path fill="#70cc00" d="M1241 350l3 1 6 4 16 16 14 17 7 12 3 10 1 12-2 8-4 10-3 4-2 1-2 0-4-5-10-23-23-59-1-6 1-2zM1178 816l4-1 2 1 4 4 9 20 12 24 3 8 1 6-2 14-4 12-10 22-10 14-10 10-15 12-16 9-28 12-24 8-28 7-30 6-24 3-36 1 0-97 32-2 34-5 30-8 30-12 12-6 10-8 8-8 22-27 24-19z"/>
<path fill="#90d600" d="M1243 354l3 0 2 1 16 15 12 14 10 16 3 8 1 8-1 10-5 10-2 3-2 1-2 0-2-2-4-7-9-21-17-44-2-6-1-6zM1174 824l6-1 3 1 3 3 19 37 3 8 1 8-1 12-3 12-12 24-10 14-13 12-14 10-20 10-26 10-24 8-25 6-22 4-31 3-32 1 0-93 32-2 32-5 30-7 30-12 14-7 11-8 8-8 21-25 10-8 10-7z"/>
<path fill="#b0e200" d="M1245 358l1-1 4 1 10 9 12 13 10 14 4 8 2 10 0 12-3 6-2 4-3 2-4-3-4-6-10-23-14-36-3-10zM1172 830l4-1 4 1 6 6 15 28 4 10 1 8-1 12-4 12-12 24-9 12-14 13-14 9-21 10-21 8-24 8-26 6-24 5-28 3-32 1 0-91 32-1 30-4 30-8 28-10 16-8 11-7 11-10 20-23 10-8 8-5z"/>
<path fill="#d0ee00" d="M1248 360l6 3 8 7 13 14 7 11 3 7 2 8 0 8-3 9-2 3-4 1-4-5-4-6-20-50-2-6 0-4zM1169 836l5-2 4 1 6 5 7 12 7 14 4 10 1 8-1 12-3 10-13 24-8 11-14 12-12 8-20 10-24 9-24 8-26 6-24 4-26 3-32 1 0-86 30-1 30-4 28-7 28-10 18-8 13-8 12-10 21-22 13-10z"/>
<path fill="#eff900" d="M1251 364l1-1 4 3 10 9 8 10 7 11 3 6 2 8-1 8-1 4-2 3-2 1-2 0-2-2-4-5-8-17-10-25-3-9 0-4zM1170 840l4-1 4 2 6 7 12 22 3 8 1 8-1 10-4 12-13 24-8 10-12 9-16 10-22 10-22 8-24 7-25 6-25 4-21 2-31 1 0-81 28-1 30-4 30-7 28-9 18-8 12-8 11-9 23-23 8-6 6-3z"/>
<path fill="#fff300" d="M1255 368l1 0 4 3 8 8 6 7 6 10 4 12 0 4-2 7-2 2-2 0-4-4-3-5-15-34-2-8 1-2zM1166 846l4-1 4 0 4 2 4 4 5 9 6 12 2 8 2 8-1 10-4 10-12 22-8 10-11 8-17 9-24 11-22 8-22 7-24 5-23 4-23 2-30 1 0-75 30-1 28-3 28-7 28-9 20-9 14-9 32-29 10-7z"/>
<path fill="#ffdc00" d="M1258 374l2 0 6 5 6 7 6 8 3 10 0 6-1 4-2 1-2-1-6-9-8-17-4-14zM1167 850l3-1 4 1 4 3 4 5 8 17 3 9 1 6-2 10-4 10-10 17-10 11-14 10-16 8-22 9-24 9-22 6-22 5-22 3-24 3-26 0 0-69 28 0 26-4 28-6 30-9 22-10 12-7 12-9 22-20 11-7z"/>
<path fill="#ffc600" d="M1264 382l2 0 2 2 6 8 3 8 0 4-1 1-2-1-4-5-6-13 0-4zM1168 854l6 2 7 8 7 16 2 12-2 10-8 16-8 11-8 7-12 8-20 10-22 9-22 8-22 6-22 5-22 3-24 2-22 0 0-62 28-1 28-4 28-6 26-8 22-9 14-8 12-9 24-21 10-5z"/>
<path fill="#ffb200" d="M1163 860l3-1 4 0 4 3 3 4 7 14 1 6 1 8-2 9-6 12-8 10-10 9-14 9-16 8-22 9-22 7-22 6-22 5-22 3-22 2-22 0 0-56 28 0 26-4 28-6 26-8 22-8 17-9 9-7 24-21 7-4z"/>
<path fill="#ff9e00" d="M1165 864l3 0 4 2 6 9 4 13-1 10-3 8-6 11-9 9-11 8-14 8-20 10-20 7-22 7-20 5-22 4-20 2-22 2-16 0 0-49 26 0 28-4 26-5 26-8 22-8 18-9 10-7 22-19 8-5 3-1z"/>
<path fill="#ff8a00" d="M1160 870l4-1 4 1 5 6 4 10 0 6 0 6-4 10-6 8-8 8-13 9-12 7-22 10-20 7-20 6-40 8-40 4-16 0 0-42 28-1 26-3 26-5 26-8 22-8 18-9 10-7 20-16 8-6z"/>
<path fill="#fb7800" d="M1158 876l6-1 4 2 2 3 2 5 1 5-1 10-4 8-6 8-10 8-12 8-15 8-19 8-38 12-40 8-36 3-16 0 0-34 26-1 26-3 26-5 26-7 24-9 20-10 8-5 26-21z"/>
<path fill="#f46800" d="M1158 882l4 0 2 1 3 5 0 8-2 8-4 6-8 8-11 8-10 6-36 15-36 11-36 6-38 3-10 0 0-27 26 0 26-3 24-5 28-7 22-9 22-10 10-6 18-15 6-3z"/>
<path fill="#ec5800" d="M1152 892l2-1 4 0 2 2 1 3-1 4-2 4-4 6-8 7-10 7-21 10-31 12-31 8-35 6-32 2-10 0 0-17 26-1 26-2 22-4 24-7 22-7 26-11 12-8 18-13z"/>
</g></g>
<defs><clipPath id="cr"><rect x="786" y="120.5" width="129" height="383"/></clipPath></defs>
<g clip-path="url(#cr)"><g transform="scale(0.5)" shape-rendering="crispEdges">
<path fill="#404078" d="M1568 236l266 0 0 776-266 0 0-776z"/>
<path fill="#4040d7" d="M1568 236l266 0 0 776-266 0 0-776z"/>
<path fill="#4047e6" d="M1568 236l266 0 0 550-4 4-8 12-9 16-4 14-1 16 1 10 3 4 2 1 8 0 12-4 0 131 0 22-266 0 0-409 7-5 2-4-1-6-5-6-3-3 0-343zM1598 600l-3 2 1 6 16 34 4 5 6 6 4 0 4-3 4-10 1-8 0-10-3-7-6-6-10-6-10-3-8 0z"/>
<path fill="#4054f3" d="M1568 236l266 0 0 498-6 4-6 10-12 36-13 28-3 12-3 32-6 32 1 8 3 6 5 4 6 1 4-2 8-9 6-5 8-4 8-2 0 127-88 0-178 0 0-181 4-15 2-18-1-18-5-15 0-83 3-38 3-7 4-5 6-1 4 2 2 5 5 20 6 14 12 22 5 4 6 2 4-1 4-2 4-5 3-6 4-14 1-22-1-14-2-14-3-8-4-6-12-13-16-13-38-26 0-238 2-32 5-24-1-4-2-2-4-2 0-18z"/>
<path fill="#4062ff" d="M1568 236l266 0 0 471-10 1-8 3-6 7-4 9-2 11-6 38-13 36-2 38-2 12-6 20-1 10 2 12 12 24 8 27 4 8 3 5 6 4 7 0 8-3 10-7 0 50-38 0-228 0 0-160 4-9 4-17 3-14 1-12-1-18-6-30-1-12 2-10 6-17 4-7 4-4 6-1 16 4 12 1 8-1 6-4 6-7 6-10 3-10 1-12-1-14-3-16-5-16-5-10-14-18-14-15-30-23-12-7 0-199 4-9 3-11 2-40 5-20 1-6-1-4-2-2-4-2-8-3 0-11zM1770 287l-2 2-1 3 1 3 4 1 2-2 1-4-2-2-3-1z"/>
<path fill="#4074ff" d="M1568 236l266 0 0 454-18 2-10 3-6 5-4 10-4 13-2 11-1 30-2 12-10 34 0 28-1 14-3 12-6 18-2 10 0 8 2 6 13 28 6 16 4 22 2 23 2 8 2 2 2 0 4-1 19-12 13-7 0 27-32 0-230 0-4-2 0-142 4-6 4-10 7-34 2-14-1-22-6-28 0-8 2-8 5-12 5-6 4-3 10-3 26-5 6-3 5-4 7-8 6-10 4-10 0-10 0-10-3-12-8-24-5-12-16-26-8-10-9-8-31-24-10-6 0-172 2-3 4-10 6-21 1-10 1-32 2-8 4-12 1-6-2-6-3-4-16-5 0-7zM1676 435l-5 5-5 9-4 13-1 10 1 9 3 7 5 3 6 0 4-2 4-3 4-6 3-10 1-12-1-10-3-6-6-6-6-1zM1782 260l-8 3-8 8-7 9-3 8-1 6 1 6 6 7 6 5 8 2 8-1 6-4 3-5 1-6 0-6-5-22-3-8-4-2z"/>
<path fill="#4086ff" d="M1568 236l209 0-4 8-20 32-6 16-1 10 1 18 3 4 6 2 44-1 6-2 4-3 2-4 0-6-8-28 0-8 1-6 4-8 5-7 8-7 12-9 0 440-28 4-7 3-5 4-3 4-3 8-8 28-1 12 1 24-1 12-9 34 2 26-1 12-3 14-9 24-2 12 1 6 1 6 13 24 5 12 4 16 1 14-4 24-4 12-192 0-14-6 0-127 8-7 5-10 8-54 0-26-6-26 1-8 1-6 4-10 9-8 13-6 23-7 8-5 7-6 7-8 5-8 3-8 1-10-3-16-6-20-9-20-19-37-12-13-32-27-8-6-8-4 0-150 4-6 4-9 9-30 2-10 0-34 5-18 1-6-1-8-4-5-5-3-15-5 0-3zM1674 426l-4 2-4 4-5 10-6 18-2 14 3 14 4 8 4 3 4 1 10-1 10-5 6-8 4-14 1-20-3-12-5-8-5-4-4-2-4-1-4 1zM1656 919l-1 3 1 1 2 1 3 0 1-2-1-2-3-1-2 0zM1831 1008l3-2 0 6-4 0-3 0 4-4z"/>
<path fill="#409eff" d="M1571 236l198 0-3 6-20 34-8 18-4 12 0 10 3 8 6 8 3 2 4 1 18-2 12 0 32 6 6-1 4-2 4-4 3-6 2-6 0-6-3-10-10-20-1-6 1-4 4-6 7-6 5-3 0 404-32 9-6 3-6 5-4 5-3 7-11 34-2 14 2 24 0 12-7 34 2 26-1 12-3 14-11 26-4 12 1 6 2 6 15 24 8 18 2 10 0 8-1 10-2 10-3 10-5 10-177 0-4-2-16-7 0-115 12-8 4-4 2-4 2-10 1-24 4-26 0-26-5-30 2-12 4-9 8-7 12-7 24-9 10-6 7-6 7-8 5-8 3-8 1-8-1-10-5-14-33-74-12-14-20-16-14-14-6-4-12-6 0-133 6-7 5-10 11-36 2-12 1-32 4-24-1-8-5-8-5-4-15-6zM1672 420l-4 2-5 4-7 12-8 22-1 14 4 18 5 10 4 3 4 1 8-1 8-1 12-5 4-3 4-6 2-7 1-9 1-26-3-12-8-10-5-4-6-3-6 0-4 1zM1650 908l-5 2-3 4 0 6 3 6 5 6 6 4 8 3 6-1 5-4 4-6 1-6-2-6-4-4-8-4-8-1-8 1z"/>
<path fill="#40b6ff" d="M1578 236l184 0-3 6-16 26-17 32-2 6 0 6 1 6 4 6 9 10 4 3 6 2 22-1 10 1 10 2 20 6 6 1 8-2 10-6 0 300-16 14-18 7-10 7-8 10-7 14-10 30-3 14 0 10 3 30-1 10-4 24 2 26-1 14-5 16-16 30-2 8 0 4 2 4 21 26 4 8 4 10 2 12-1 10-2 12-4 12-5 10-168 0-5-4-18-8 0-105 21-9 4-4 2-4-2-34 4-30 1-12-1-18-4-26 1-12 4-8 8-8 11-6 25-11 9-5 10-8 6-6 6-8 3-8 1-8-1-10-3-10-25-50-9-26-4-8-9-10-22-19-16-17-20-11 0-116 4-5 8-12 6-15 9-37 3-36 4-22-2-10-4-8-6-6-12-6zM1672 414l-5 2-5 4-9 12-9 20-2 8-1 8 1 8 3 10 4 14 4 6 3 2 6 2 14 0 10-3 8-2 4-3 5-6 3-6 2-10 2-30-1-8-2-6-3-6-5-6-7-5-8-4-6-2-6 1zM1642 902l-8 3-2 2-1 3 3 10 7 12 11 10 10 5 8 1 4-1 4-3 8-10 6-10 1-6-2-6-8-6-13-5-14-1-14 2z"/>
<path fill="#28d3ff" d="M1584 236l173 0-4 6-36 54-2 6-1 6 1 6 3 6 5 6 8 8 7 5 8 3 32 2 36 10 8 0 12-5 0 250-10-4-8 1-6 3-6 7-2 7-1 19-2 8-3 6-14 18-6 10-18 46-3 12 0 10 4 36-1 10-2 20 2 26 0 12-4 16-5 10-5 8-8 9-8 6-8 4-10 2-12 0-30-6-42 0-10-2-4-3-9-16-4-12-2-12 0-10 4-26 1-12-1-16-4-28 0-8 2-6 6-8 8-6 34-16 13-8 10-8 6-6 5-8 2-6 1-8-1-8-4-10-21-36-8-16-3-10-5-20-3-6-8-10-23-20-17-18-23-14 0-99 4-5 8-12 8-16 12-48 6-52-1-10-4-10-5-6-12-8zM1670 409l-6 3-6 5-11 15-10 20-2 8 0 8 4 16 7 18 4 6 4 4 6 2 8 0 10-1 12-2 8-3 6-4 4-6 3-8 2-8 2-38-2-8-3-6-4-6-7-6-7-5-8-3-8-2-6 1zM1590 896l12 0 8 3 23 31 9 10 12 10 6 4 6 2 8-1 6-3 22-26 10-7 4-2 6 0 6 1 6 3 8 5 9 8 6 8 5 10 3 10 1 10-1 10-3 11-10 19-157 0-5-4-22-11 0-95 12-4 10-2z"/>
<path fill="#0df0ff" d="M1588 236l163 0-9 13-28 33-6 10-2 6-1 8 1 8 3 6 6 6 12 10 7 5 8 3 8 2 26 2 36 11 10 0 12-3 0 226-12-4-8 0-8 5-8 9-6 14-7 32-15 31-10 27-10 24-3 12 0 12 1 12 5 26-2 26 3 24 0 12-1 8-3 8-4 8-5 8-7 7-8 5-8 3-12 2-12 0-24-3-34 0-12-4-8-5-9-11-5-12-1-8 0-10 4-28 0-14-4-40 0-8 3-6 4-6 8-6 38-18 14-8 11-8 6-6 4-6 3-6 0-8-1-8-4-10-25-37-8-15-5-14-3-20-4-8-10-11-22-19-16-17-26-19 0-81 4-4 10-15 6-11 4-9 13-54 6-44 0-12-4-10-6-8-13-10zM1668 405l-6 4-7 5-13 16-11 20-2 8-1 8 2 8 3 8 12 24 4 6 5 3 6 2 10 1 10-1 14-3 8-3 7-5 5-8 2-6 2-8 2-36 0-8-2-8-4-6-5-6-8-6-9-5-10-4-8-1-6 1zM1583 904l7 0 6 0 6 2 6 4 10 9 18 21 10 10 12 10 8 3 8 0 6-3 20-22 6-5 6-3 6-2 6-1 6 1 6 2 8 6 6 6 4 6 4 8 3 8 0 8 0 8-3 10-4 10-8 12-148 0-6-5-24-14 0-84 15-5z"/>
<path fill="#00f9ef" d="M1592 236l153 0-3 5-8 9-10 8-19 14-6 8-4 10 0 10 1 10 5 10 5 6 14 10 12 8 8 3 8 2 26 3 28 9 10 3 10 0 12-2 0 208-12-5-10-1-6 2-4 2-7 8-7 16-12 41-14 33-7 24-13 28-3 14 0 20 2 12 5 20-1 22 5 24 0 12 0 8-3 8-4 8-4 6-6 6-7 5-8 3-10 1-10 1-24-2-34 0-12-4-10-6-8-10-5-12-1-16 5-28 0-12-5-40 1-8 3-6 5-6 7-5 50-23 21-12 5-4 4-6 2-6 1-8-2-8-5-10-28-35-11-17-6-16-2-22-4-8-11-13-20-17-18-20-17-14-11-11 0-56 17-27 10-22 16-64 6-32 0-14-1-6-3-6-8-10-13-10zM1666 402l-8 4-8 7-17 21-6 10-4 8-2 8 0 6 1 6 4 8 17 30 5 6 6 3 6 2 10 0 10 0 14-3 11-4 7-5 6-7 3-8 2-8 0-20 2-20 0-8-2-8-3-6-6-6-10-7-12-6-10-4-8-1-8 2zM1583 910l7 0 6 1 6 3 6 4 10 9 34 36 8 6 8 3 6 0 6-4 20-22 10-8 6-2 6-1 6 0 6 2 6 3 6 5 5 7 3 6 2 6 1 8-1 8-2 8-4 10-10 14-138 0-5-4-17-10-12-8 0-75 8-3 7-2z"/>
<path fill="#00eed0" d="M1596 236l67 0-3 14 0 6 2 6 4 8 12 16 13 30 5 8 4 4 26 16 14 6 32 5 28 10 10 3 12 1 12-2 0 194-16-7-12 0-6 1-6 3-4 3-3 5-16 56-5 11-12 23-4 8-4 24-4 6-9 10-2 4-2 6 1 50 6 22 2 18 8 28 1 12-2 10-4 8-3 6-6 6-6 4-8 3-8 2-18 0-18-2-28 1-8-1-8-2-8-5-7-8-5-8-2-10 0-14 4-24 1-10-1-12-4-28 1-8 3-8 6-6 10-6 34-14 48-17 4-3 3-4 2-8 0-8-2-10-4-8-35-32-10-11-7-11-4-8-3-10-1-24-5-10-12-13-20-17-18-23-17-15-7-9-6-11 0-19 6-13 14-24 7-18 5-16 7-32 14-46 3-14-1-16-3-10-8-10-16-12zM1668 398l-10 4-10 7-7 7-16 18-6 8-3 8-2 8-1 8 2 8 3 6 16 21 8 14 4 4 5 3 7 2 8 1 10 0 16-3 14-4 10-5 6-7 4-8 2-10 1-22 2-20 0-10-1-8-3-6-6-6-9-6-14-7-12-4-10-2-8 1zM1686 236l53 0-7 8-12 7-6 2-6 0-6-2-4-3-12-12zM1582 916l6 0 8 1 6 3 8 6 22 22 34 40 1 2 1 4-7 18-7 0-48 0-5-4-20-12-13-11 0-63 8-4 6-2zM1716 942l8-1 6 1 6 2 6 4 5 6 3 6 2 8 1 8-2 10-4 8-6 8-10 10-19 0-18 0-16-16-3-4 0-2 5-10 18-24 8-8 10-6z"/>
<path fill="#00e4b0" d="M1600 236l51 0-6 22 0 6 2 6 5 8 18 18 20 28 6 6 9 6 23 13 10 4 31 5 29 11 10 3 12 1 14-1 0 181-14-6-10-1-20 1-6 2-3 3-3 6-4 30-7 22-9 19-6 8-6 6-6 5-6 2-8 0-10-3-10-4-12-7-10-8-10-9-9-11-6-10-3-14-1-22-3-9-7-11-8-10-13-8-8-8-4-8-3-8-1-6 2-2 8 2 10 7 6 7 6 14 4 3 4 2 16 2 14-1 24-4 14-5 6-4 5-5 4-6 2-6 1-10 1-22 3-24 0-12-3-8-3-5-6-5-7-4-18-8-13-4-12-2-10 1-10 4-12 7-26 22-7 8-4 6-2 10-2 14-1 17-2 1-6-2-6-5-6-7-4-10 0-10 4-9 11-17 3-8 15-72 9-24 13-32 3-10-1-12-4-8-12-10-19-12zM1700 236l31 0-3 3-8 3-8 1-8-3-4-4zM1681 718l13-1 10 1 8 4 4 6 2 6 2 8-1 28 3 17 4 11 10 17 4 9 3 10 0 10-2 10-4 8-6 8-9 6-8 2-10 1-26-2-8 1-22 1-14-3-6-3-6-4-4-5-4-6-3-10 0-10 6-32 0-10-4-30-1-10 1-6 3-6 4-4 4-2 32-14 25-6zM1581 922l5-1 6 1 6 2 8 5 20 19 18 22 7 14 1 6 1 6-4 16-9 0-29 0-26-16-8-6-9-10 0-50 8-6 5-2zM1716 948l4-1 6 0 6 1 4 2 4 4 4 5 2 5 2 6-1 12-4 10-9 10-10 6-10 2-10-3-6-5-4-4-3-6-1-4 1-10 7-14 8-10 10-6z"/>
<path fill="#00dc90" d="M1605 236l35 0-3 4-5 3-6 1-12-4-9-4zM1643 300l7-1 10 4 8 6 16 17 10 8 10 6 28 15 10 3 24 3 28 12 12 3 14 2 14-1 0 171-12-6-6-1-38-3-5 0-3 1-2 3-2 6 2 26-2 16-5 16-9 16-10 10-6 3-6 2-14 0-8-2-9-3-13-7-10-8-8-8-6-9-4-14 0-27-6-21 1-2 3-2 26-3 34-6 11-5 7-6 4-8 3-12 1-28 2-28 0-14-4-12-2-2-4-3-36-12-18-4-12 0-10 3-10 4-20 12-6 2-6 1-4-3-2-3-1-5-1-14 2-16 6-26 6-17 8-15 6-8 7-6zM1625 510l3 1 0 3-2 0-1-2 0-2zM1667 726l13-2 12 1 8 3 6 6 3 6 2 8-1 30 2 14 2 6 4 6 10 9 6 8 4 9 2 8-1 10-2 8-5 8-7 6-7 3-10 3-10 0-14-2-10-1-24 2-8 0-8-3-8-4-5-6-5-8-2-8 0-14 7-26 1-8-1-10-5-26 1-8 1-6 4-5 8-4 22-9 15-4zM1582 928l4-1 6 1 6 2 8 5 18 17 8 10 6 8 5 14 1 6-1 6-2 6-3 5-6 5-2 0-8 0-20-8-11-6-12-10-11-15 0-33 7-8 7-4zM1715 954l9-2 8 2 7 6 2 4 2 6 0 10-3 8-7 8-9 5-8 1-8-2-6-6-4-8 0-8 3-10 6-8 8-6z"/>
<path fill="#00d26c" d="M1643 314l7-2 10 3 8 5 26 19 40 21 8 2 21 2 27 12 14 5 14 1 16 0 0 161-12-5-26-4-26-8-9 0-6 2-2 4 0 4 7 34 1 10-1 10-4 11-7 11-9 9-9 5-7 2-8 1-8-1-8-2-16-7-8-6-6-6-6-9-3-12 0-38 2-6 8-4 17-4 44-6 10-3 4-3 1-4 1-8 1-46 2-26-1-20-2-15-2-4-4-2-20 0-28-7-18-2-16 1-30 11-6 0-4-2-4-6-2-10 2-14 4-18 4-12 6-11 6-8 7-5zM1661 732l11-1 12 1 8 3 5 5 4 6 1 6-2 28 3 12 4 8 5 8 12 9 6 6 4 7 2 6 0 8-1 8-4 8-6 6-8 4-9 2-10 0-10-1-12-1-26 2-12-2-8-4-5-4-4-6-3-8-1-8 1-8 8-28 1-8 0-8-6-24 1-12 4-6 6-4 16-6 13-4zM1587 934l5 0 6 2 14 10 12 12 9 14 3 12 0 6-1 6-3 4-4 3-8 2-14-3-8-2-6-4-11-10-8-12-3-14 2-12 2-5 4-5 4-2 5-2zM1720 958l6 0 6 3 5 5 1 6 0 8-3 6-5 5-6 3-8 0-5-2-5-5-2-7 1-8 4-6 5-5 6-3z"/>
<path fill="#00c644" d="M1646 324l8-1 10 3 30 18 42 22 24 2 22 11 18 6 16 2 18 0 0 152-12-5-16-2-13-4-15-8-11-8-6-8-1-6-2-32-1-62-2-8-5-6-4-2-6-1-14 3-8 0-28-5-18-1-12 1-28 5-6-1-3-3-2-6 0-6 2-14 3-11 4-9 6-8 4-4 6-4zM1691 538l25-2 16 2 4 2 5 4 7 12 4 10 2 10 0 8-2 8-4 8-6 8-8 6-8 4-8 2-8 1-10-1-8-2-8-4-8-5-6-6-4-7-2-8-1-10 2-20 2-8 2-4 5-4 7-2 10-2zM1657 738l9-1 10 1 6 2 6 5 3 5 1 6-2 24 1 6 1 4 5 8 9 10 20 16 4 6 2 6 1 8-1 6-3 6-5 6-6 4-8 2-10 1-10-1-14-2-22 3-14-1-6-3-6-4-4-6-3-7-1-10 2-10 11-28 2-6-1-6-6-20-1-8 1-6 2-4 6-4 8-4 13-4zM1588 942l4 0 6 1 10 6 10 9 9 12 3 10-1 10-3 6-4 3-4 1-12 0-11-4-9-8-7-10-3-12 0-10 4-9 4-3 4-2zM1717 966l5-2 4 0 4 3 2 3 1 4-1 5-2 3-4 4-4 1-4 0-4-3-2-2-1-4 0-4 2-4 4-4z"/>
<path fill="#00bc24" d="M1648 334l10-1 10 3 46 24 7 4 8 8 1 4-4 4-4 2-12 1-18-2-26 0-24 0-6 0-4-3-2-4-1-6 1-8 2-7 3-7 5-6 4-4 4-2zM1752 374l2-1 4 1 12 9 20 6 22 3 22 0 0 143-4-1-8-2-16-3-10-4-12-9-8-10-2-6 0-6 4-20-6-6-2-4-4-26-2-18 1-26-1-4-3-4-11-8 0-2 2-2zM1694 542l20 0 8 2 6 2 5 4 5 5 4 7 3 8 2 8 0 6-1 4-3 6-5 6-6 5-8 4-8 4-8 1-8 0-8-1-6-2-6-4-6-4-4-5-3-6-1-8-1-8 2-12 3-10 3-4 5-4 8-3 8-1zM1657 744l7-1 6 2 4 1 4 4 2 4 1 6-1 6-4 16 2 6 5 6 20 18 19 14 5 6 2 6 1 8-2 6-4 6-6 4-6 3-8 1-24-3-28 3-12-2-6-3-4-3-4-6-2-6-1-6 1-8 3-8 4-8 9-12 6-5 6-3 3-4-1-4-10-8-6-7-3-7 1-8 2-4 4-4 8-4 7-2zM1592 950l8 1 8 5 8 7 6 9 2 8-1 8-3 5-7 3-9 0-8-2-7-6-5-8-3-10 1-10 4-7 6-3z"/>
<path fill="#00b40c" d="M1652 344l8-1 12 2 14 7 25 14 3 4 0 2-4 2-8 1-28 2-22-3-8-3-4-5 0-8 4-8 4-4 4-2zM1781 398l7-1 26 1 20-1 0 135-18-4-10-3-10-5-8-8-3-8-1-8 3-6 3-4 11-10 2-6-1-4-4-6-19-16-4-6-3-8-1-10 1-10 4-8 5-4zM1686 548l8-1 8 0 14 2 6 3 5 4 7 10 2 6 1 6 0 6-2 4-7 8-14 9-12 3-12-1-6-2-6-3-7-8-2-6-1-8 0-8 2-7 3-7 3-4 4-3 6-3zM1659 754l5 1 2 3 0 2-2 4-3 2-3 0-3 0-3-2 0-4 2-4 5-2zM1662 802l10-2 6 2 6 2 32 22 5 4 3 4 2 6 0 6-2 6-3 4-5 3-6 3-8 0-8 0-18-2-20 2-10 0-10-3-7-7-2-6 0-8 2-8 5-10 4-6 6-5 18-7zM1592 960l4-1 6 1 6 3 6 6 3 5 1 6-1 6-3 4-6 3-6 0-6-3-4-4-4-8-1-8 1-6 4-4z"/>
<path fill="#10b400" d="M1660 356l4-2 4 0 6 1 6 3 4 2 3 4 0 2-3 3-8 2-12-3-3-2-3-4 0-4 2-2zM1821 404l13-1 0 126-26-6-8-5-6-6-3-8 0-8 3-6 12-14 2-4 0-6-2-6-4-8-16-18-4-6-2-6 0-4 1-4 3-3 6-3 8-2 23-2zM1691 552l11 0 12 4 7 6 5 8 1 8-4 8-5 6-12 8-10 3-6-1-6-1-8-6-4-9-2-10 2-6 2-6 7-8 5-3 5-1zM1658 810l12-2 12 2 8 4 20 12 9 8 3 5 1 5-2 6-3 4-4 2-6 2-16 0-16-1-28 2-8-2-7-5-2-6-1-6 1-6 3-7 4-5 6-6 6-3 8-3zM1596 970l2-1 4 0 6 4 3 7-1 4-2 2-6 2-4-2-2-2-2-8 1-4 1-2z"/>
<path fill="#30bc00" d="M1826 410l8-1 0 118-21-5-7-3-4-4-5-7-1-6 0-4 2-6 12-16 2-6 0-6-2-10-11-24 0-4 0-4 3-4 6-3 18-5zM1689 558l9 0 8 2 7 6 3 6 0 6-3 6-7 8-7 4-7 1-8-2-6-4-4-8-1-7 3-8 6-7 7-3zM1658 816l12-2 12 3 24 12 10 7 2 4 1 4-1 4-4 4-8 3-14-1-16 0-28 1-6-1-6-4-2-4 0-6 2-6 2-5 8-8 12-5z"/>
<path fill="#50c400" d="M1833 416l1 0 0 108-18-3-6-3-4-3-4-5-2-4 0-8 3-6 11-16 2-6 1-6-1-9-5-17 0-8 3-6 4-3 7-3 8-2zM1685 566l5-2 6 1 6 3 3 4 0 4-1 6-3 4-5 3-4 1-6 0-4-3-4-5-1-4 1-5 2-3 5-4zM1660 822l12-1 10 2 16 7 12 8 2 2 1 4-3 4-6 2-12 0-42 1-6-1-3-2-2-2 0-4 0-4 3-5 8-7 10-4z"/>
<path fill="#70cc00" d="M1829 426l5-2 0 97-14-1-8-4-5-4-2-4-2-8 2-6 11-16 4-8 2-12-2-22 3-6 6-4zM1660 830l8-1 6 0 6 1 7 4 4 4 0 2-4 2-7 2-24 0-6-1-2-3 2-4 5-4 5-2z"/>
<path fill="#90d600" d="M1832 438l2-2 0 83-10-1-8-2-7-6-2-4 0-6 2-6 11-16 4-8 3-10 2-16 3-6z"/>
<path fill="#b0e200" d="M1834 462l0 54-12-1-8-3-4-6 0-4 0-4 4-6 12-16 8-14z"/>
<path fill="#d0ee00" d="M1833 476l1-1 0 38-10 0-6-2-2-1-3-4 0-4 1-4 4-6 15-16z"/>
<path fill="#eff900" d="M1834 484l0 24-8 1-6-1-2-1-1-3 1-5 6-7 10-8z"/>
</g></g>
<g clip-path="url(#cl)"><g fill="none" stroke-linecap="butt">
<path d="M236.0 311.0C235.4 310.8 235.2 311.0 232.5 309.8C229.8 308.5 225.8 307.5 220.0 303.5C214.2 299.5 203.3 292.2 197.5 286.0C191.7 279.8 188.0 272.7 185.0 266.0C182.0 259.3 180.1 251.8 179.5 246.0C178.9 240.2 179.1 237.7 181.2 231.0C183.4 224.3 188.1 213.5 192.5 206.0C196.9 198.5 201.7 192.7 207.5 186.0C213.3 179.3 221.7 171.0 227.5 166.0C233.3 161.0 235.4 159.8 242.5 156.0C249.6 152.2 261.2 146.8 270.0 143.5C278.8 140.2 288.0 138.0 295.0 136.0C302.0 134.0 309.2 132.2 312.0 131.5" stroke="#fff" stroke-width="1.8"/>
<path d="M248.0 309.0C250.3 308.8 256.7 307.8 262.0 308.0C267.3 308.2 273.7 307.8 280.0 310.0C286.3 312.2 294.6 315.5 300.0 321.0C305.4 326.5 309.3 335.7 312.5 343.0C315.7 350.3 317.8 358.0 319.0 365.0C320.2 372.0 320.0 378.7 319.5 385.0C319.0 391.3 317.8 397.0 316.0 403.0C314.2 409.0 312.2 414.8 309.0 421.0C305.8 427.2 303.5 432.5 297.0 440.0C290.5 447.5 278.7 458.3 270.0 466.0C261.3 473.7 253.0 480.3 245.0 486.0C237.0 491.7 225.8 497.7 222.0 500.0" stroke="#fff" stroke-width="1.8"/>
<path d="M246.0 319.0C246.7 319.8 247.8 320.5 250.0 324.0C252.2 327.5 257.2 334.0 259.0 340.0C260.8 346.0 261.2 353.3 260.5 360.0C259.8 366.7 257.8 374.3 255.0 380.0C252.2 385.7 248.2 389.7 244.0 394.0C239.8 398.3 235.7 402.3 230.0 406.0C224.3 409.7 216.7 413.4 210.0 416.0C203.3 418.6 197.5 420.2 190.0 421.5C182.5 422.8 173.3 423.8 165.0 423.5C156.7 423.2 148.3 421.8 140.0 419.8C131.7 417.7 123.3 414.5 115.0 411.0C106.7 407.5 99.3 403.2 90.0 398.5C80.7 393.8 64.2 385.2 59.0 382.5" stroke="#fff" stroke-width="1.8"/>
<path d="M237.0 320.0C236.5 320.8 238.5 322.3 234.0 325.0C229.5 327.7 217.3 333.6 210.0 336.0C202.7 338.4 195.0 339.5 190.0 339.5C185.0 339.5 185.0 337.9 180.0 336.0C175.0 334.1 166.7 331.3 160.0 328.0C153.3 324.7 145.8 321.0 140.0 316.0C134.2 311.0 129.2 304.2 125.0 298.0C120.8 291.8 117.8 285.7 115.0 278.5C112.2 271.3 109.8 262.1 108.5 255.0C107.2 247.9 107.2 245.4 107.5 236.0C107.8 226.6 108.4 208.5 110.0 198.5C111.6 188.5 114.1 182.9 117.0 176.0C119.9 169.1 125.8 160.2 127.5 157.0" stroke="#000" stroke-width="2.3"/>
<path d="M237.0 320.0C236.5 320.8 238.5 322.3 234.0 325.0C229.5 327.7 217.3 333.6 210.0 336.0C202.7 338.4 195.0 339.5 190.0 339.5C185.0 339.5 185.0 337.9 180.0 336.0C175.0 334.1 166.7 331.3 160.0 328.0C153.3 324.7 145.8 321.0 140.0 316.0C134.2 311.0 129.2 304.2 125.0 298.0C120.8 291.8 117.8 285.7 115.0 278.5C112.2 271.3 109.8 262.1 108.5 255.0C107.2 247.9 107.2 245.4 107.5 236.0C107.8 226.6 108.4 208.5 110.0 198.5C111.6 188.5 114.1 182.9 117.0 176.0C119.9 169.1 125.8 160.2 127.5 157.0" stroke="#fff" stroke-width="2.3" stroke-dasharray="4.5 6.5"/>
<path d="M234.0 318.0C233.3 318.7 234.0 320.7 230.0 322.0C226.0 323.3 216.7 324.9 210.0 326.0C203.3 327.1 195.0 328.9 190.0 328.5C185.0 328.1 186.2 327.7 180.0 323.5C173.8 319.3 160.0 311.0 152.5 303.5C145.0 296.0 139.1 286.6 135.0 278.5C130.9 270.4 129.2 264.2 128.0 255.0C126.8 245.8 126.5 233.8 127.5 223.5C128.5 213.2 130.4 203.9 133.8 193.5C137.1 183.1 141.7 170.4 147.5 161.0C153.3 151.6 165.2 141.2 168.8 137.2" stroke="#000" stroke-width="2.3"/>
<path d="M234.0 318.0C233.3 318.7 234.0 320.7 230.0 322.0C226.0 323.3 216.7 324.9 210.0 326.0C203.3 327.1 195.0 328.9 190.0 328.5C185.0 328.1 186.2 327.7 180.0 323.5C173.8 319.3 160.0 311.0 152.5 303.5C145.0 296.0 139.1 286.6 135.0 278.5C130.9 270.4 129.2 264.2 128.0 255.0C126.8 245.8 126.5 233.8 127.5 223.5C128.5 213.2 130.4 203.9 133.8 193.5C137.1 183.1 141.7 170.4 147.5 161.0C153.3 151.6 165.2 141.2 168.8 137.2" stroke="#fff" stroke-width="2.3" stroke-dasharray="4.5 6.5"/>
<path d="M239.0 322.0C238.8 322.7 239.5 322.7 238.0 326.0C236.5 329.3 234.7 336.3 230.0 342.0C225.3 347.7 216.7 355.7 210.0 360.0C203.3 364.3 195.0 366.4 190.0 368.0C185.0 369.6 185.0 369.7 180.0 369.8C175.0 369.8 167.9 370.4 160.0 368.5C152.1 366.6 141.7 363.1 132.5 358.5C123.3 353.9 113.3 348.1 105.0 341.0C96.7 333.9 88.8 324.3 82.5 316.0C76.2 307.7 71.5 300.8 67.5 291.0C63.5 281.2 60.2 262.9 58.8 257.2" stroke="#000" stroke-width="2.3"/>
<path d="M239.0 322.0C238.8 322.7 239.5 322.7 238.0 326.0C236.5 329.3 234.7 336.3 230.0 342.0C225.3 347.7 216.7 355.7 210.0 360.0C203.3 364.3 195.0 366.4 190.0 368.0C185.0 369.6 185.0 369.7 180.0 369.8C175.0 369.8 167.9 370.4 160.0 368.5C152.1 366.6 141.7 363.1 132.5 358.5C123.3 353.9 113.3 348.1 105.0 341.0C96.7 333.9 88.8 324.3 82.5 316.0C76.2 307.7 71.5 300.8 67.5 291.0C63.5 281.2 60.2 262.9 58.8 257.2" stroke="#fff" stroke-width="2.3" stroke-dasharray="4.5 6.5"/>
<path d="M250.0 319.0C251.0 319.5 252.7 318.5 256.0 322.0C259.3 325.5 267.2 333.7 270.0 340.0C272.8 346.3 273.0 353.3 272.5 360.0C272.0 366.7 269.8 373.3 267.0 380.0C264.2 386.7 260.5 394.0 256.0 400.0C251.5 406.0 245.7 411.3 240.0 416.0C234.3 420.7 228.2 424.5 222.0 428.0C215.8 431.5 211.2 435.0 202.5 437.2C193.8 439.5 180.4 441.1 170.0 441.5C159.6 441.9 149.2 441.1 140.0 439.8C130.8 438.4 123.3 435.6 115.0 433.5C106.7 431.4 94.2 428.1 90.0 427.0" stroke="#000" stroke-width="2.3"/>
<path d="M250.0 319.0C251.0 319.5 252.7 318.5 256.0 322.0C259.3 325.5 267.2 333.7 270.0 340.0C272.8 346.3 273.0 353.3 272.5 360.0C272.0 366.7 269.8 373.3 267.0 380.0C264.2 386.7 260.5 394.0 256.0 400.0C251.5 406.0 245.7 411.3 240.0 416.0C234.3 420.7 228.2 424.5 222.0 428.0C215.8 431.5 211.2 435.0 202.5 437.2C193.8 439.5 180.4 441.1 170.0 441.5C159.6 441.9 149.2 441.1 140.0 439.8C130.8 438.4 123.3 435.6 115.0 433.5C106.7 431.4 94.2 428.1 90.0 427.0" stroke="#fff" stroke-width="2.3" stroke-dasharray="4.5 6.5"/>
<path d="M243.0 303.0C243.8 301.0 244.2 295.5 247.5 291.0C250.8 286.5 256.7 279.5 262.5 276.0C268.3 272.5 275.4 270.8 282.5 269.8C289.6 268.7 298.8 268.9 305.0 269.8C311.2 270.6 314.7 271.9 320.0 274.8C325.3 277.6 331.6 280.9 337.0 287.0C342.4 293.1 347.8 301.8 352.5 311.5C357.2 321.2 361.5 333.4 365.0 345.0C368.5 356.6 372.2 370.2 373.8 381.0C375.2 391.8 375.1 400.2 374.0 410.0C372.9 419.8 370.0 431.7 367.0 440.0C364.0 448.3 358.0 456.5 356.2 459.8" stroke="#000" stroke-width="2.3"/>
<path d="M243.0 303.0C243.8 301.0 244.2 295.5 247.5 291.0C250.8 286.5 256.7 279.5 262.5 276.0C268.3 272.5 275.4 270.8 282.5 269.8C289.6 268.7 298.8 268.9 305.0 269.8C311.2 270.6 314.7 271.9 320.0 274.8C325.3 277.6 331.6 280.9 337.0 287.0C342.4 293.1 347.8 301.8 352.5 311.5C357.2 321.2 361.5 333.4 365.0 345.0C368.5 356.6 372.2 370.2 373.8 381.0C375.2 391.8 375.1 400.2 374.0 410.0C372.9 419.8 370.0 431.7 367.0 440.0C364.0 448.3 358.0 456.5 356.2 459.8" stroke="#fff" stroke-width="2.3" stroke-dasharray="4.5 6.5"/>
<path d="M247.0 305.0C247.5 303.7 247.0 300.8 250.0 297.0C253.0 293.2 259.6 285.5 265.0 282.0C270.4 278.5 275.8 277.0 282.5 276.0C289.2 275.0 298.4 275.0 305.0 276.0C311.6 277.0 315.3 278.8 322.0 282.0C328.7 285.2 338.2 290.1 345.0 295.0C351.8 299.9 357.5 303.2 362.5 311.5C367.5 319.8 371.7 333.4 375.0 345.0C378.3 356.6 381.0 370.2 382.5 381.0C384.0 391.8 384.4 401.5 384.0 410.0C383.6 418.5 381.3 426.0 380.0 432.0C378.7 438.0 376.9 443.7 376.2 446.0" stroke="#000" stroke-width="2.3"/>
<path d="M247.0 305.0C247.5 303.7 247.0 300.8 250.0 297.0C253.0 293.2 259.6 285.5 265.0 282.0C270.4 278.5 275.8 277.0 282.5 276.0C289.2 275.0 298.4 275.0 305.0 276.0C311.6 277.0 315.3 278.8 322.0 282.0C328.7 285.2 338.2 290.1 345.0 295.0C351.8 299.9 357.5 303.2 362.5 311.5C367.5 319.8 371.7 333.4 375.0 345.0C378.3 356.6 381.0 370.2 382.5 381.0C384.0 391.8 384.4 401.5 384.0 410.0C383.6 418.5 381.3 426.0 380.0 432.0C378.7 438.0 376.9 443.7 376.2 446.0" stroke="#fff" stroke-width="2.3" stroke-dasharray="4.5 6.5"/>
<path d="M234.0 300.0C233.0 297.5 229.9 291.5 228.0 285.0C226.1 278.5 222.8 269.2 222.5 261.0C222.2 252.8 222.9 244.3 226.2 236.0C229.6 227.7 235.2 218.5 242.5 211.0C249.8 203.5 261.2 196.0 270.0 191.0C278.8 186.0 286.7 183.3 295.0 181.0C303.3 178.7 310.8 178.0 320.0 177.2C329.2 176.5 340.3 175.6 350.0 176.5C359.7 177.4 373.3 181.5 378.0 182.5" stroke="#000" stroke-width="2.3"/>
<path d="M234.0 300.0C233.0 297.5 229.9 291.5 228.0 285.0C226.1 278.5 222.8 269.2 222.5 261.0C222.2 252.8 222.9 244.3 226.2 236.0C229.6 227.7 235.2 218.5 242.5 211.0C249.8 203.5 261.2 196.0 270.0 191.0C278.8 186.0 286.7 183.3 295.0 181.0C303.3 178.7 310.8 178.0 320.0 177.2C329.2 176.5 340.3 175.6 350.0 176.5C359.7 177.4 373.3 181.5 378.0 182.5" stroke="#fff" stroke-width="2.3" stroke-dasharray="4.5 6.5"/>
<path d="M238.0 300.0C237.5 297.5 235.1 291.5 235.0 285.0C234.9 278.5 234.6 269.2 237.5 261.0C240.4 252.8 246.2 243.1 252.5 236.0C258.8 228.9 267.1 222.9 275.0 218.5C282.9 214.1 291.7 211.6 300.0 209.8C308.3 207.9 316.7 207.2 325.0 207.2C333.3 207.2 341.7 208.1 350.0 209.8C358.3 211.4 366.7 214.1 375.0 217.2C383.3 220.4 392.5 224.5 400.0 228.5C407.5 232.5 416.7 238.9 420.0 241.0" stroke="#000" stroke-width="2.3"/>
<path d="M238.0 300.0C237.5 297.5 235.1 291.5 235.0 285.0C234.9 278.5 234.6 269.2 237.5 261.0C240.4 252.8 246.2 243.1 252.5 236.0C258.8 228.9 267.1 222.9 275.0 218.5C282.9 214.1 291.7 211.6 300.0 209.8C308.3 207.9 316.7 207.2 325.0 207.2C333.3 207.2 341.7 208.1 350.0 209.8C358.3 211.4 366.7 214.1 375.0 217.2C383.3 220.4 392.5 224.5 400.0 228.5C407.5 232.5 416.7 238.9 420.0 241.0" stroke="#fff" stroke-width="2.3" stroke-dasharray="4.5 6.5"/>
<path d="M241.0 300.0C240.8 297.5 239.8 291.5 240.0 285.0C240.2 278.5 239.2 268.3 242.5 261.0C245.8 253.7 253.3 246.8 260.0 241.0C266.7 235.2 275.0 229.3 282.5 226.0C290.0 222.7 297.9 222.0 305.0 221.0C312.1 220.0 317.5 219.1 325.0 219.8C332.5 220.4 341.7 222.2 350.0 224.8C358.3 227.2 366.7 230.8 375.0 234.8C383.3 238.7 392.5 243.3 400.0 248.5C407.5 253.7 415.4 261.4 420.0 266.0C424.6 270.6 426.2 274.3 427.5 276.0" stroke="#000" stroke-width="2.3"/>
<path d="M241.0 300.0C240.8 297.5 239.8 291.5 240.0 285.0C240.2 278.5 239.2 268.3 242.5 261.0C245.8 253.7 253.3 246.8 260.0 241.0C266.7 235.2 275.0 229.3 282.5 226.0C290.0 222.7 297.9 222.0 305.0 221.0C312.1 220.0 317.5 219.1 325.0 219.8C332.5 220.4 341.7 222.2 350.0 224.8C358.3 227.2 366.7 230.8 375.0 234.8C383.3 238.7 392.5 243.3 400.0 248.5C407.5 253.7 415.4 261.4 420.0 266.0C424.6 270.6 426.2 274.3 427.5 276.0" stroke="#fff" stroke-width="2.3" stroke-dasharray="4.5 6.5"/>
<path d="M244.0 300.0C244.0 297.5 243.4 291.5 244.0 285.0C244.6 278.5 243.2 267.9 247.5 261.0C251.8 254.1 262.9 248.1 270.0 243.5C277.1 238.9 283.3 236.0 290.0 233.5C296.7 231.0 304.2 229.5 310.0 228.5C315.8 227.5 318.3 226.4 325.0 227.2C331.7 228.1 341.7 230.6 350.0 233.5C358.3 236.4 367.9 241.0 375.0 244.8C382.1 248.5 387.1 251.2 392.5 256.0C397.9 260.8 402.5 267.2 407.5 273.5C412.5 279.8 418.5 288.5 422.5 293.5C426.5 298.5 429.8 301.8 431.2 303.5" stroke="#000" stroke-width="2.3"/>
<path d="M244.0 300.0C244.0 297.5 243.4 291.5 244.0 285.0C244.6 278.5 243.2 267.9 247.5 261.0C251.8 254.1 262.9 248.1 270.0 243.5C277.1 238.9 283.3 236.0 290.0 233.5C296.7 231.0 304.2 229.5 310.0 228.5C315.8 227.5 318.3 226.4 325.0 227.2C331.7 228.1 341.7 230.6 350.0 233.5C358.3 236.4 367.9 241.0 375.0 244.8C382.1 248.5 387.1 251.2 392.5 256.0C397.9 260.8 402.5 267.2 407.5 273.5C412.5 279.8 418.5 288.5 422.5 293.5C426.5 298.5 429.8 301.8 431.2 303.5" stroke="#fff" stroke-width="2.3" stroke-dasharray="4.5 6.5"/>
</g></g>
<g fill="none" stroke="#000" stroke-width="1">
<circle cx="240.5" cy="311.5" r="48"/>
<circle cx="240.5" cy="311.5" r="96"/>
<circle cx="240.5" cy="311.5" r="144"/>
<path d="M49.5 311.5H431.5M240.5 120.5V502.5"/>
<path d="M105.4 176.4L375.6 446.6M105.4 446.6L375.6 176.4"/>
<path d="M334.0 333.3L337.9 334.2M429.5 355.5L434.8 356.7M326.6 354.0L330.1 355.8M414.4 397.5L419.3 399.9M314.6 372.6L317.7 375.1M390.2 434.9L394.4 438.4M298.7 387.9L301.1 391.0M358.1 465.8L361.4 470.2M279.7 399.1L281.3 402.8M319.7 488.6L322.0 493.6M258.7 405.8L259.4 409.7M277.2 502.0L278.2 507.4M236.6 407.4L236.5 411.4M232.7 505.3L232.5 510.8M214.8 404.0L213.8 407.9M188.7 498.4L187.2 503.7M194.4 395.7L192.5 399.2M147.3 481.7L144.7 486.5M176.4 383.0L173.7 385.9M110.9 455.9L107.3 460.0M161.8 366.4L158.5 368.7M81.4 422.5L76.9 425.6M151.3 347.0L147.6 348.5M60.2 383.2L55.1 385.3M145.6 325.7L141.6 326.3M48.6 340.2L43.2 341.0M144.8 303.6L140.8 303.3M47.2 295.6L41.7 295.2M149.1 282.0L145.3 280.8M55.9 251.9L50.7 250.2M158.3 261.9L154.9 259.8M74.4 211.3L69.7 208.5M171.8 244.5L168.9 241.7M101.7 176.0L97.7 172.2M188.9 230.5L186.8 227.2M136.3 147.9L133.3 143.2M208.8 220.9L207.4 217.1M176.4 128.4L174.6 123.2M230.3 216.0L229.9 212.1M219.9 118.6L219.3 113.1M252.4 216.2L252.9 212.3M264.5 119.0L265.2 113.5M273.8 221.5L275.2 217.7M307.8 129.5L309.7 124.4M293.5 231.4L295.7 228.1M347.6 149.7L350.6 145.1M310.4 245.7L313.3 242.9M381.7 178.5L385.7 174.7M323.6 263.4L327.0 261.3M408.3 214.2L413.1 211.4M332.4 283.6L336.2 282.4M426.1 255.1L431.4 253.5M336.3 305.3L340.3 305.0M434.1 299.0L439.6 298.6"/>
</g>
<path d="M309.7 131.1A193.2 193.2 0 0 0 59.0 377.6" fill="none" stroke="#ff0000" stroke-width="3.9"/>
<path d="M59.0 377.6A193.2 193.2 0 0 0 220.3 503.6" fill="none" stroke="#0000ff" stroke-width="3.9"/>
<path d="M220.3 503.6A193.2 193.2 0 0 0 382.9 442.0" fill="none" stroke="#ff0000" stroke-width="3.9"/>
<path d="M382.9 442.0A193.2 193.2 0 0 0 309.7 131.1" fill="none" stroke="#0000ff" stroke-width="3.9"/>
<path d="M316.0 133.7A193.2 193.2 0 0 0 303.4 128.8" fill="none" stroke="#000" stroke-width="3.9"/>
<path d="M56.8 371.2A193.2 193.2 0 0 0 61.4 383.9" fill="none" stroke="#000" stroke-width="3.9"/>
<path d="M213.6 502.8A193.2 193.2 0 0 0 227.0 504.2" fill="none" stroke="#000" stroke-width="3.9"/>
<path d="M378.3 446.9A193.2 193.2 0 0 0 387.4 437.0" fill="none" stroke="#000" stroke-width="3.9"/>
<circle cx="240.0" cy="312.5" r="9.7" fill="#fff" stroke="#0000ff" stroke-width="4.2"/>
<path d="M249.6 310.8A9.7 9.7 0 0 0 244.8 304.1" fill="none" stroke="#ff0000" stroke-width="4.2"/>
<path d="M230.3 313.3A9.7 9.7 0 0 0 247.4 318.7" fill="none" stroke="#ff0000" stroke-width="4.2"/>
<text x="444.6" y="362.8" font-size="14.7" fill="#ff0000" stroke="#ff0000" stroke-width="0.3" text-anchor="middle" textLength="7.6" lengthAdjust="spacingAndGlyphs">1</text>
<text x="428.4" y="407.5" font-size="14.7" fill="#ff0000" stroke="#ff0000" stroke-width="0.3" text-anchor="middle" textLength="7.6" lengthAdjust="spacingAndGlyphs">2</text>
<text x="402.2" y="447.4" font-size="14.7" fill="#ff0000" stroke="#ff0000" stroke-width="0.3" text-anchor="middle" textLength="7.6" lengthAdjust="spacingAndGlyphs">3</text>
<text x="367.5" y="480.3" font-size="14.7" fill="#ff0000" stroke="#ff0000" stroke-width="0.3" text-anchor="middle" textLength="7.6" lengthAdjust="spacingAndGlyphs">4</text>
<text x="326.1" y="504.5" font-size="14.7" fill="#ff0000" stroke="#ff0000" stroke-width="0.3" text-anchor="middle" textLength="7.6" lengthAdjust="spacingAndGlyphs">5</text>
<text x="280.1" y="518.8" font-size="14.7" fill="#ff0000" stroke="#ff0000" stroke-width="0.3" text-anchor="middle" textLength="7.6" lengthAdjust="spacingAndGlyphs">6</text>
<text x="232.1" y="522.3" font-size="14.7" fill="#ff0000" stroke="#ff0000" stroke-width="0.3" text-anchor="middle" textLength="7.6" lengthAdjust="spacingAndGlyphs">7</text>
<text x="184.5" y="515.0" font-size="14.7" fill="#ff0000" stroke="#ff0000" stroke-width="0.3" text-anchor="middle" textLength="7.6" lengthAdjust="spacingAndGlyphs">8</text>
<text x="139.8" y="497.1" font-size="14.7" fill="#ff0000" stroke="#ff0000" stroke-width="0.3" text-anchor="middle" textLength="7.6" lengthAdjust="spacingAndGlyphs">9</text>
<text x="100.5" y="469.7" font-size="14.7" fill="#ff0000" stroke="#ff0000" stroke-width="0.3" text-anchor="middle" textLength="15.6" lengthAdjust="spacingAndGlyphs">10</text>
<text x="68.6" y="434.1" font-size="14.7" fill="#ff0000" stroke="#ff0000" stroke-width="0.3" text-anchor="middle" textLength="15.6" lengthAdjust="spacingAndGlyphs">11</text>
<text x="45.8" y="392.4" font-size="14.7" fill="#ff0000" stroke="#ff0000" stroke-width="0.3" text-anchor="middle" textLength="15.6" lengthAdjust="spacingAndGlyphs">12</text>
<text x="33.2" y="346.5" font-size="14.7" fill="#ff0000" stroke="#ff0000" stroke-width="0.3" text-anchor="middle" textLength="15.6" lengthAdjust="spacingAndGlyphs">13</text>
<text x="31.6" y="299.1" font-size="14.7" fill="#ff0000" stroke="#ff0000" stroke-width="0.3" text-anchor="middle" textLength="15.6" lengthAdjust="spacingAndGlyphs">14</text>
<text x="41.0" y="252.5" font-size="14.7" fill="#ff0000" stroke="#ff0000" stroke-width="0.3" text-anchor="middle" textLength="15.6" lengthAdjust="spacingAndGlyphs">15</text>
<text x="61.0" y="209.3" font-size="14.7" fill="#ff0000" stroke="#ff0000" stroke-width="0.3" text-anchor="middle" textLength="15.6" lengthAdjust="spacingAndGlyphs">16</text>
<text x="90.5" y="171.8" font-size="14.7" fill="#ff0000" stroke="#ff0000" stroke-width="0.3" text-anchor="middle" textLength="15.6" lengthAdjust="spacingAndGlyphs">17</text>
<text x="127.9" y="141.8" font-size="14.7" fill="#ff0000" stroke="#ff0000" stroke-width="0.3" text-anchor="middle" textLength="15.6" lengthAdjust="spacingAndGlyphs">18</text>
<text x="171.2" y="121.1" font-size="14.7" fill="#ff0000" stroke="#ff0000" stroke-width="0.3" text-anchor="middle" textLength="15.6" lengthAdjust="spacingAndGlyphs">19</text>
<text x="218.2" y="110.7" font-size="14.7" fill="#ff0000" stroke="#ff0000" stroke-width="0.3" text-anchor="middle" textLength="15.6" lengthAdjust="spacingAndGlyphs">20</text>
<text x="266.4" y="111.1" font-size="14.7" fill="#ff0000" stroke="#ff0000" stroke-width="0.3" text-anchor="middle" textLength="15.6" lengthAdjust="spacingAndGlyphs">21</text>
<text x="313.2" y="122.3" font-size="14.7" fill="#ff0000" stroke="#ff0000" stroke-width="0.3" text-anchor="middle" textLength="15.6" lengthAdjust="spacingAndGlyphs">22</text>
<text x="356.2" y="143.8" font-size="14.7" fill="#ff0000" stroke="#ff0000" stroke-width="0.3" text-anchor="middle" textLength="15.6" lengthAdjust="spacingAndGlyphs">23</text>
<text x="393.0" y="174.4" font-size="14.7" fill="#ff0000" stroke="#ff0000" stroke-width="0.3" text-anchor="middle" textLength="15.6" lengthAdjust="spacingAndGlyphs">24</text>
<text x="421.8" y="212.4" font-size="14.7" fill="#ff0000" stroke="#ff0000" stroke-width="0.3" text-anchor="middle" textLength="15.6" lengthAdjust="spacingAndGlyphs">25</text>
<text x="441.0" y="256.0" font-size="14.7" fill="#ff0000" stroke="#ff0000" stroke-width="0.3" text-anchor="middle" textLength="15.6" lengthAdjust="spacingAndGlyphs">26</text>
<text x="449.7" y="302.7" font-size="14.7" fill="#ff0000" stroke="#ff0000" stroke-width="0.3" text-anchor="middle" textLength="15.6" lengthAdjust="spacingAndGlyphs">27</text>
<text x="60.5" y="110.5" font-size="16" fill="#000" stroke="#000" stroke-width="0.35" textLength="106.1" lengthAdjust="spacingAndGlyphs">Ecliptic Plane</text>
<text x="223.5" y="110.5" font-size="16" fill="#000" stroke="#000" stroke-width="0.35" textLength="32.8" lengthAdjust="spacingAndGlyphs">W90</text>
<text y="110.6" font-size="16" fill="#000" stroke="#000" stroke-width="0.35"><tspan x="312.9" textLength="26.1" lengthAdjust="spacingAndGlyphs">LAT</tspan><tspan> </tspan><tspan x="346.6" textLength="12.3" lengthAdjust="spacingAndGlyphs">=</tspan><tspan> </tspan><tspan x="366.6" textLength="15.6" lengthAdjust="spacingAndGlyphs">-</tspan><tspan x="380.4" textLength="24.8" lengthAdjust="spacingAndGlyphs">0.3</tspan><tspan x="404.6" dy="2.2" font-size="22" stroke-width="0.1">°</tspan></text>
<text y="317.5" font-size="16" fill="#000" stroke="#000" stroke-width="0.35"><tspan x="444.1" textLength="10.0" lengthAdjust="spacingAndGlyphs">0</tspan><tspan x="452.4" dy="2.2" font-size="22" stroke-width="0.1">°</tspan></text>
<text x="225.2" y="524.7" font-size="16" fill="#000" stroke="#000" stroke-width="0.35" textLength="30.6" lengthAdjust="spacingAndGlyphs">E90</text>
<g fill="none" stroke="#000" stroke-width="1">
<path d="M490.5 120.0V503.0"/>
<path d="M490.5 263.5A48 48 0 0 1 490.5 359.5"/>
<path d="M490.5 215.5A96 96 0 0 1 490.5 407.5"/>
<path d="M490.5 167.5A144 144 0 0 1 490.5 455.5"/>
<path d="M490.5 120.0A191.5 191.5 0 0 1 490.5 503.0"/>
<path d="M490.5 311.5H681.5M490.5 311.5L625.6 176.4M490.5 311.5L625.6 446.6"/>
</g>
<g fill="none">
<path d="M499.0 313.6C503.8 313.3 518.5 313.3 527.5 312.0C536.5 310.7 544.9 308.1 552.8 305.7C560.7 303.3 568.7 299.8 575.0 297.8C581.3 295.9 586.6 294.3 590.8 294.0C595.0 293.7 597.9 294.7 600.3 296.2C602.7 297.7 603.5 300.2 605.0 303.0C606.5 305.8 607.8 308.8 609.0 313.0C610.2 317.2 611.2 321.8 612.5 328.0C613.8 334.2 615.9 342.4 616.5 350.0C617.1 357.6 616.8 366.1 616.0 373.3C615.2 380.5 613.2 386.6 611.7 393.3C610.2 400.0 608.1 407.2 606.7 413.3C605.3 419.4 605.2 424.4 603.3 430.0C601.3 435.6 598.3 441.7 595.0 446.7C591.7 451.7 586.1 456.4 583.3 460.0C580.5 463.6 578.9 466.7 578.0 468.0" stroke="#fff" stroke-width="1.8"/>
<path d="M497.4 303.7L668.3 293" stroke="#000" stroke-width="2.4"/>
<path d="M497.4 303.7L668.3 293" stroke="#fff" stroke-width="2.4" stroke-dasharray="8 9" stroke-dashoffset="-8"/>
<path d="M494.5 304.6L586.9 144.5A192.8 192.8 0 0 1 586.9 478.5L576.5 460.5" stroke="#0000ff" stroke-width="4.4" stroke-linejoin="miter"/>
<path d="M576.5 460.5L494.5 318.4" stroke="#ff0000" stroke-width="4.4"/>
<path d="M494.5 304.6L496.5 311.5L494.5 318.4" stroke="#0000ff" stroke-width="2"/>
</g>
<text x="474.2" y="110.5" font-size="16" fill="#000" stroke="#000" stroke-width="0.35" textLength="30.9" lengthAdjust="spacingAndGlyphs">N90</text>
<text y="110.6" font-size="16" fill="#000" stroke="#000" stroke-width="0.35"><tspan x="538.9" textLength="29.3" lengthAdjust="spacingAndGlyphs">LON</tspan><tspan> </tspan><tspan x="577.9" textLength="12.2" lengthAdjust="spacingAndGlyphs">=</tspan><tspan> </tspan><tspan x="597.9" textLength="9.9" lengthAdjust="spacingAndGlyphs">0</tspan><tspan x="605.9" dy="2.2" font-size="22" stroke-width="0.1">°</tspan></text>
<text y="317.5" font-size="16" fill="#000" stroke="#000" stroke-width="0.35"><tspan x="688.5" textLength="10.0" lengthAdjust="spacingAndGlyphs">0</tspan><tspan x="696.6" dy="2.2" font-size="22" stroke-width="0.1">°</tspan></text>
<text x="474.0" y="524.7" font-size="16" fill="#000" stroke="#000" stroke-width="0.35" textLength="31.1" lengthAdjust="spacingAndGlyphs">S90</text>
<g fill="none" stroke="#000" stroke-width="1">
<path d="M754.5 119.5V503.5M802.5 119.5V503.5M850.5 119.5V503.5M898.5 119.5V503.5M946.5 119.5V503.5M754.5 119.5H946.5M754.5 167.5H946.5M754.5 215.5H946.5M754.5 263.5H946.5M754.5 311.5H946.5M754.5 359.5H946.5M754.5 407.5H946.5M754.5 455.5H946.5M754.5 503.5H946.5"/>
<path d="M745 311.5H754.5"/>
</g>
<g fill="none">
<path d="M827.8 123.0C825.7 125.7 818.7 133.5 815.0 139.3C811.3 145.1 807.7 152.2 805.7 158.0C803.8 163.8 802.9 170.0 803.3 174.3C803.7 178.6 805.3 182.7 808.0 183.7C810.7 184.7 814.7 181.6 819.7 180.2C824.8 178.8 832.1 176.5 838.3 175.5C844.5 174.5 850.4 174.7 857.0 174.3C863.6 173.9 872.5 172.4 878.0 173.2C883.5 174.0 886.2 176.1 889.7 179.0C893.2 181.9 896.1 187.2 899.0 190.7C901.9 194.2 904.9 198.1 907.2 200.0C909.5 201.9 912.0 201.9 913.0 202.3" stroke="#fff" stroke-width="1.6"/>
<path d="M912.5 251.5C911.0 252.3 907.1 253.5 903.7 256.5C900.3 259.5 895.9 265.6 892.0 269.3C888.1 273.0 884.6 276.2 880.3 278.7C876.0 281.2 871.0 282.2 866.3 284.5C861.6 286.8 856.2 290.9 852.3 292.7C848.4 294.4 845.3 293.4 843.0 295.0C840.7 296.6 838.9 298.5 838.3 302.0C837.7 305.5 838.7 310.6 839.5 316.0C840.3 321.4 841.2 329.2 843.0 334.7C844.8 340.1 847.3 343.6 850.0 348.7C852.7 353.8 857.0 360.3 859.3 365.0C861.6 369.7 863.0 373.2 864.0 376.7C865.0 380.2 865.2 381.7 865.2 386.0C865.2 390.3 865.0 398.2 864.0 402.7C863.0 407.2 861.6 410.9 859.3 413.2C857.0 415.5 853.9 415.9 850.0 416.7C846.1 417.5 841.0 417.2 836.0 417.8C831.0 418.4 824.8 418.8 819.7 420.2C814.7 421.6 809.4 423.1 805.7 426.0C802.0 428.9 799.1 433.0 797.5 437.7C795.9 442.4 795.9 448.6 796.3 454.0C796.7 459.4 797.8 465.8 799.8 470.3C801.8 474.8 804.3 478.1 808.0 480.8C811.7 483.5 817.9 484.9 822.0 486.7C826.1 488.4 830.4 488.9 832.5 491.3C834.6 493.7 834.4 499.4 834.8 501.0" stroke="#fff" stroke-width="1.6"/>
<path d="M787 120.5V503.5" stroke="#0000ff" stroke-width="4.2"/>
<path d="M914.2 120.5V503.5" stroke="#ff0000" stroke-width="4"/>
<path d="M914.2 199.5V253.5" stroke="#0000ff" stroke-width="4"/>
<path d="M914.2 199.5V203M914.2 250V253.5" stroke="#000" stroke-width="4"/>
<path d="M785 122.5H828" stroke="#0000ff" stroke-width="3.5"/><path d="M828 122.5H916.2" stroke="#ff0000" stroke-width="3.5"/><path d="M826.5 122.5H830" stroke="#000" stroke-width="3.5"/>
<path d="M785 502H832" stroke="#0000ff" stroke-width="3.5"/><path d="M832 502H916.2" stroke="#ff0000" stroke-width="3.5"/><path d="M830.5 502H834.5" stroke="#000" stroke-width="3.5"/>
</g>
<text x="707.3" y="116.6" font-size="16" fill="#000" stroke="#000" stroke-width="0.35" textLength="43.1" lengthAdjust="spacingAndGlyphs">W180</text>
<text y="110.6" font-size="16" fill="#000" stroke="#000" stroke-width="0.35"><tspan x="802.9" textLength="10.5" lengthAdjust="spacingAndGlyphs">R</tspan><tspan> </tspan><tspan x="821.6" textLength="12.6" lengthAdjust="spacingAndGlyphs">=</tspan><tspan> </tspan><tspan x="842.1" textLength="24.1" lengthAdjust="spacingAndGlyphs">1.0</tspan><tspan> </tspan><tspan x="876.6" textLength="20.0" lengthAdjust="spacingAndGlyphs">AU</tspan></text>
<text x="710.8" y="515.6" font-size="16" fill="#000" stroke="#000" stroke-width="0.35" textLength="39.0" lengthAdjust="spacingAndGlyphs">E180</text>
<text x="753.9" y="524.5" font-size="16" fill="#000" stroke="#000" stroke-width="0.35" textLength="31.3" lengthAdjust="spacingAndGlyphs">N90</text>
<text y="524.5" font-size="16" fill="#000" stroke="#000" stroke-width="0.35"><tspan x="841.3" textLength="10.0" lengthAdjust="spacingAndGlyphs">0</tspan><tspan x="849.6" dy="2.2" font-size="22" stroke-width="0.1">°</tspan></text>
<text x="915.5" y="524.5" font-size="16" fill="#000" stroke="#000" stroke-width="0.35" textLength="30.3" lengthAdjust="spacingAndGlyphs">S90</text>
<text x="739.5" y="317.3" font-size="14" fill="#ff0000" stroke="#ff0000" stroke-width="0.3" text-anchor="middle" textLength="7.2" lengthAdjust="spacingAndGlyphs">1</text>
<text y="24.3" font-size="20.2" stroke="#000" stroke-width="0.3" x="9.8 23.4 36.1 49.2 63.1 80.9 94.4 107.2 127.8 140.8 151.8 164.8 178.2 191.8 198.3 211">2024<tspan textLength="22" lengthAdjust="spacingAndGlyphs">-</tspan>08<tspan textLength="22" lengthAdjust="spacingAndGlyphs">-</tspan>11T00:00</text>
<text y="24.3" font-size="20.2" stroke="#000" stroke-width="0.3" x="622.9 636.6 649.7 662.1 675.3 694.1 707.5 720.2 740.3 751.6 765.1 777.9 791.6 805 814.2 831.8 845 860.3 866 879.5 893 903.1 916.3 928.1 938.9">2024<tspan textLength="22" lengthAdjust="spacingAndGlyphs">-</tspan>07<tspan textLength="22" lengthAdjust="spacingAndGlyphs">-</tspan>19T06 +22.73 days</text>
<ellipse cx="19.0" cy="48.0" rx="5.6000000000000005" ry="5.1000000000000005" fill="#ffff00" stroke="#000" stroke-width="1.8"/>
<text x="31.2" y="53.8" font-size="16" fill="#000" stroke="#000" stroke-width="0.35" textLength="41.1" lengthAdjust="spacingAndGlyphs">Earth</text>
<ellipse cx="153.0" cy="48.0" rx="5.6000000000000005" ry="5.1000000000000005" fill="#ff0000" stroke="#000" stroke-width="1.8"/>
<text x="165.7" y="53.8" font-size="16" fill="#000" stroke="#000" stroke-width="0.35" textLength="37.6" lengthAdjust="spacingAndGlyphs">Mars</text>
<ellipse cx="288.7" cy="48.0" rx="5.6000000000000005" ry="5.1000000000000005" fill="#ffa500" stroke="#000" stroke-width="1.8"/>
<text x="301.2" y="53.8" font-size="16" fill="#000" stroke="#000" stroke-width="0.35" textLength="60.4" lengthAdjust="spacingAndGlyphs">Mercury</text>
<ellipse cx="423.2" cy="48.0" rx="5.6000000000000005" ry="5.1000000000000005" fill="#008000" stroke="#000" stroke-width="1.8"/>
<text x="434.7" y="53.8" font-size="16" fill="#000" stroke="#000" stroke-width="0.35" textLength="46.1" lengthAdjust="spacingAndGlyphs">Venus</text>
<path d="M548.7 48.0L557.3 39.4L565.9 48.0L557.3 56.6Z" fill="#ffff00" stroke="#000" stroke-width="1.6"/>
<text x="569.2" y="53.8" font-size="16" fill="#000" stroke="#000" stroke-width="0.35" textLength="33.6" lengthAdjust="spacingAndGlyphs">Bepi</text>
<path d="M683.2 48.0L691.8 39.4L700.4 48.0L691.8 56.6Z" fill="#ffa500" stroke="#000" stroke-width="1.6"/>
<text x="703.7" y="53.8" font-size="16" fill="#000" stroke="#000" stroke-width="0.35" textLength="35.1" lengthAdjust="spacingAndGlyphs">Lucy</text>
<path d="M817.6 48.0L826.2 39.4L834.8 48.0L826.2 56.6Z" fill="#000000" stroke="#000" stroke-width="1.6"/>
<text y="53.8" font-size="16" fill="#000" stroke="#000" stroke-width="0.35"><tspan x="837.1" textLength="49.3" lengthAdjust="spacingAndGlyphs">OSIRIS</tspan><tspan x="886.5" textLength="16.3" lengthAdjust="spacingAndGlyphs">-</tspan><tspan x="900.4" textLength="40.0" lengthAdjust="spacingAndGlyphs">APEX</tspan></text>
<rect x="13.4" y="66.9" width="11.2" height="10.2" fill="#008000" stroke="#000" stroke-width="1.8"/>
<text x="31.2" y="77.6" font-size="16" fill="#000" stroke="#000" stroke-width="0.35" textLength="72.1" lengthAdjust="spacingAndGlyphs">ParkerSP</text>
<path d="M144.4 72.0L153.0 63.4L161.6 72.0L153.0 80.6Z" fill="#ff0000" stroke="#000" stroke-width="1.6"/>
<text x="165.7" y="77.6" font-size="16" fill="#000" stroke="#000" stroke-width="0.35" textLength="35.1" lengthAdjust="spacingAndGlyphs">SolO</text>
<rect x="283.0" y="66.9" width="11.2" height="10.2" fill="#ff0000" stroke="#000" stroke-width="1.8"/>
<text x="300.5" y="77.6" font-size="16" fill="#000" stroke="#000" stroke-width="0.35" textLength="69.8" lengthAdjust="spacingAndGlyphs">Stereo_A</text>
<defs><linearGradient id="cb" x1="0" x2="1" y1="0" y2="0">
<stop offset="0.0000" stop-color="#404078"/>
<stop offset="0.0250" stop-color="#4040a8"/>
<stop offset="0.0500" stop-color="#4040e0"/>
<stop offset="0.0700" stop-color="#4060ff"/>
<stop offset="0.0883" stop-color="#4088ff"/>
<stop offset="0.1050" stop-color="#40b8ff"/>
<stop offset="0.1250" stop-color="#00ffff"/>
<stop offset="0.1417" stop-color="#00e8c0"/>
<stop offset="0.1583" stop-color="#00d880"/>
<stop offset="0.1750" stop-color="#00c030"/>
<stop offset="0.1917" stop-color="#00b000"/>
<stop offset="0.2083" stop-color="#40c000"/>
<stop offset="0.2250" stop-color="#80d000"/>
<stop offset="0.2417" stop-color="#c0e800"/>
<stop offset="0.2583" stop-color="#ffff00"/>
<stop offset="0.2750" stop-color="#ffd000"/>
<stop offset="0.2917" stop-color="#ffa800"/>
<stop offset="0.3083" stop-color="#ff8000"/>
<stop offset="0.3250" stop-color="#f06000"/>
<stop offset="0.3417" stop-color="#e04000"/>
<stop offset="0.3583" stop-color="#d02000"/>
<stop offset="0.3750" stop-color="#c00000"/>
<stop offset="0.3917" stop-color="#c01040"/>
<stop offset="0.4083" stop-color="#e04080"/>
<stop offset="0.4250" stop-color="#f060c0"/>
<stop offset="0.4417" stop-color="#ff70ff"/>
<stop offset="0.4583" stop-color="#ffa0ff"/>
<stop offset="0.4750" stop-color="#ffd0ff"/>
<stop offset="0.4950" stop-color="#ffffff"/>
<stop offset="1.0000" stop-color="#000000"/>
</linearGradient></defs>
<rect x="129.5" y="545.5" width="275" height="11.5" fill="url(#cb)" stroke="#000" stroke-width="1"/>
<path d="M129.5 557V561.5M175.3 557V561.5M221.2 557V561.5M267.0 557V561.5M312.8 557V561.5M358.6 557V561.5M404.5 557V561.5" stroke="#000" fill="none"/>
<text x="124.2" y="577.0" font-size="16" fill="#000" stroke="#000" stroke-width="0.35" textLength="10.4" lengthAdjust="spacingAndGlyphs">0</text>
<text x="166.2" y="577.0" font-size="16" fill="#000" stroke="#000" stroke-width="0.35" textLength="18.4" lengthAdjust="spacingAndGlyphs">10</text>
<text x="211.2" y="577.0" font-size="16" fill="#000" stroke="#000" stroke-width="0.35" textLength="19.6" lengthAdjust="spacingAndGlyphs">20</text>
<text x="256.2" y="577.0" font-size="16" fill="#000" stroke="#000" stroke-width="0.35" textLength="19.6" lengthAdjust="spacingAndGlyphs">30</text>
<text x="303.0" y="577.0" font-size="16" fill="#000" stroke="#000" stroke-width="0.35" textLength="19.1" lengthAdjust="spacingAndGlyphs">40</text>
<text x="348.0" y="577.0" font-size="16" fill="#000" stroke="#000" stroke-width="0.35" textLength="20.3" lengthAdjust="spacingAndGlyphs">50</text>
<text x="394.2" y="577.0" font-size="16" fill="#000" stroke="#000" stroke-width="0.35" textLength="19.6" lengthAdjust="spacingAndGlyphs">60</text>
<text x="24.3" y="557" font-size="16" stroke="#000" stroke-width="0.35" textLength="93" lengthAdjust="spacingAndGlyphs">R<tspan dy="-7" font-size="10.5">2</tspan><tspan dy="7"> N (cm</tspan><tspan dy="-7" font-size="10.5">-3</tspan><tspan dy="7">)</tspan></text>
<text x="501.6" y="557.4" font-size="16" fill="#000" stroke="#000" stroke-width="0.35" textLength="91.2" lengthAdjust="spacingAndGlyphs">IMF polarity</text>
<rect x="502.5" y="569.5" width="90" height="12" fill="#ff0000" stroke="#000"/>
<rect x="503" y="570" width="43.7" height="11" fill="#0000ff"/>
<text y="580.8" font-size="16" fill="#000" stroke="#000" stroke-width="0.35"><tspan x="480.1" textLength="13.6" lengthAdjust="spacingAndGlyphs">-</tspan></text>
<text x="602.4" y="582.0" font-size="16" fill="#000" stroke="#000" stroke-width="0.35" textLength="11.4" lengthAdjust="spacingAndGlyphs">+</text>
<text x="670.2" y="557.8" font-size="16" fill="#000" stroke="#000" stroke-width="0.35" textLength="118.1" lengthAdjust="spacingAndGlyphs">Current sheath</text>
<rect x="682" y="570.3" width="96.8" height="11.3" fill="#808080"/><rect x="682" y="575" width="96.8" height="1.9" fill="#fff"/>
<text x="848.2" y="557.8" font-size="16" fill="#000" stroke="#000" stroke-width="0.35" textLength="89.1" lengthAdjust="spacingAndGlyphs">3D IMF line</text>
<rect x="850" y="570.3" width="87.2" height="11.3" fill="#d3d3d3"/>
<path d="M850 576H937.2" stroke="#000" stroke-width="2" stroke-dasharray="10.5 8.7" fill="none"/>
<text x="5.5" y="597" font-size="10.6" stroke="#000" stroke-width="0.25" font-family="'DejaVu Sans','Liberation Sans',sans-serif" textLength="280" lengthAdjust="spacingAndGlyphs">ENLIL-2.7 lowres-2287-a3b1f WSA_V2.2 GONGZ-22</text>
<text x="285" y="597" font-size="10.6" fill="#bbb" font-family="'DejaVu Sans','Liberation Sans',sans-serif" textLength="17" lengthAdjust="spacingAndGlyphs">87</text>
<text x="303" y="597" font-size="10.6" fill="#ececec" font-family="'DejaVu Sans','Liberation Sans',sans-serif" textLength="652" lengthAdjust="spacingAndGlyphs">UE0810214502/256x30x90x1.2287-a3b1f.16-mcp1umn1cd-1.g53q5d2.gongz-2024:06:29T21:44:00T00   2024-08-10</text>
<!--LEFT_OVER-->
<ellipse cx="141.7" cy="214.5" rx="5.6000000000000005" ry="5.1000000000000005" fill="#ff0000" stroke="#000" stroke-width="1.8"/>
<rect x="249.2" y="216.4" width="11.2" height="10.2" fill="#ff0000" stroke="#000" stroke-width="1.8"/>
<ellipse cx="289.0" cy="227.5" rx="5.6000000000000005" ry="5.1000000000000005" fill="#ffff00" stroke="#000" stroke-width="1.8"/>
<rect x="263.2" y="241.6" width="11.2" height="10.2" fill="#008000" stroke="#000" stroke-width="1.8"/>
<path d="M334.7 245.0L343.3 236.4L351.9 245.0L343.3 253.6Z" fill="#ffa500" stroke="#000" stroke-width="1.6"/>
<path d="M265.4 276.5L274.0 267.9L282.6 276.5L274.0 285.1Z" fill="#ffff00" stroke="#000" stroke-width="1.6"/>
<ellipse cx="273.0" cy="285.2" rx="5.6000000000000005" ry="5.1000000000000005" fill="#ffa500" stroke="#000" stroke-width="1.8"/>
<path d="M178.6 330.7L187.2 322.1L195.8 330.7L187.2 339.3Z" fill="#000000" stroke="#000" stroke-width="1.6"/>
<path d="M169.2 358.7L177.8 350.1L186.4 358.7L177.8 367.3Z" fill="#ff0000" stroke="#000" stroke-width="1.6"/>
<ellipse cx="259.0" cy="379.0" rx="5.6000000000000005" ry="5.1000000000000005" fill="#1a7a1a" stroke="#000" stroke-width="1.8"/>
<ellipse cx="586.5" cy="300.4" rx="5.6000000000000005" ry="5.1000000000000005" fill="#ffff00" stroke="#000" stroke-width="1.8"/>
<rect x="837.2" y="220.3" width="11.2" height="10.2" fill="#ff0000" stroke="#000" stroke-width="1.8"/>
<ellipse cx="843.2" cy="248.0" rx="5.6000000000000005" ry="5.1000000000000005" fill="#ffff00" stroke="#000" stroke-width="1.8"/>
</svg></body></html>
